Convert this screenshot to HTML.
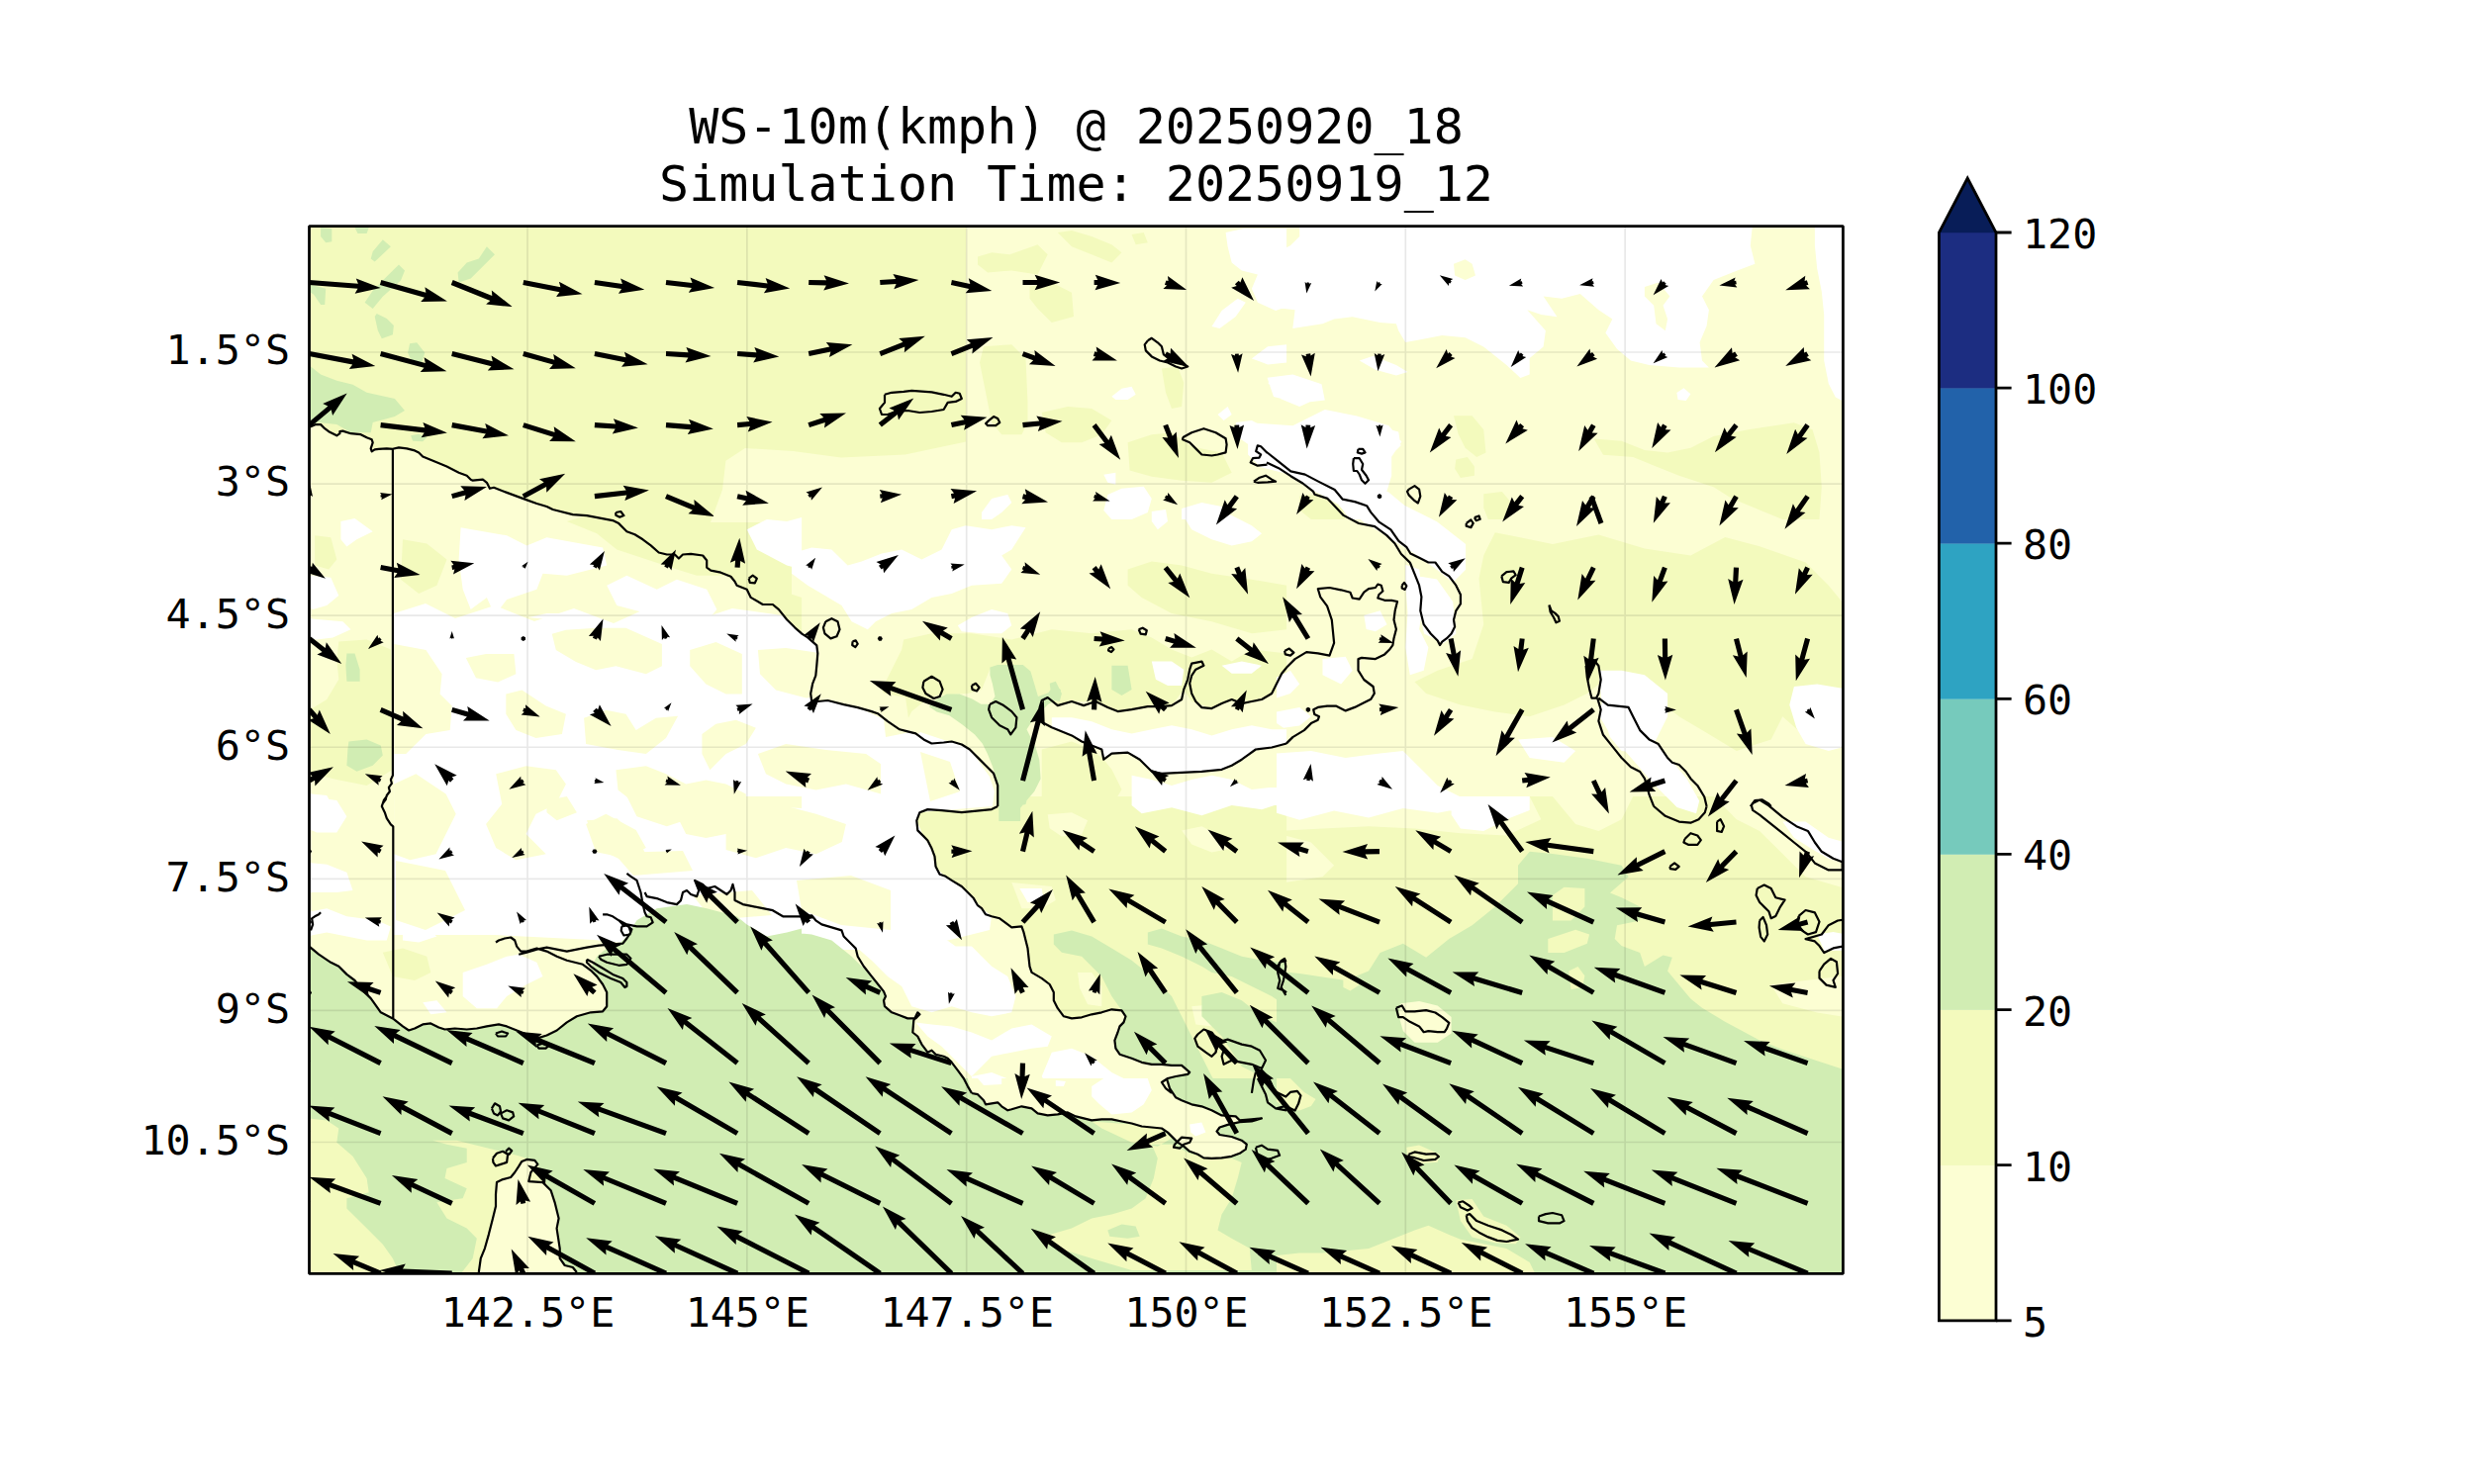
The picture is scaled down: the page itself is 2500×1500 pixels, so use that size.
<!DOCTYPE html><html><head><meta charset="utf-8"><style>html,body{margin:0;padding:0;background:#fff;}svg{display:block;}</style></head><body>
<svg xmlns="http://www.w3.org/2000/svg" width="2500" height="1500" viewBox="0 0 2500 1500">
<rect width="2500" height="1500" fill="#fff"/>
<defs><clipPath id="ax"><rect x="312.5" y="228.6" width="1549.9" height="1058.8"/></clipPath></defs>
<g clip-path="url(#ax)">
<rect x="312.5" y="228.6" width="1549.9" height="1058.8" fill="#f3fabd"/>
<path d="M976.0,228.0 1300.0,228.0 1300.0,528.0 718.0,528.0 730.0,495.0 733.4,465.8 752.9,452.9 801.4,456.1 849.9,462.6 914.6,459.4 976.0,446.4ZM1290.0,225.0 1865.0,225.0 1865.0,525.0 1290.0,525.0ZM300.0,431.6 310.0,431.6 314.0,431.2 319.1,429.1 324.1,429.1 328.2,433.2 332.2,436.2 340.3,440.3 343.4,438.2 343.4,436.2 346.4,435.6 354.5,438.2 364.6,439.2 370.6,442.3 375.7,444.3 376.7,447.3 374.7,453.4 375.7,456.4 378.7,454.4 382.8,453.8 390.8,453.4 396.9,453.8 403.0,452.4 411.1,453.4 419.1,455.4 423.2,457.4 427.2,461.5 439.4,466.5 451.5,471.6 463.6,477.7 471.7,480.7 475.7,484.7 477.8,485.7 487.9,484.7 491.9,487.8 493.9,491.8 494.9,493.8 499.0,492.8 504.0,494.8 512.1,497.9 528.3,503.9 542.4,509.0 552.5,512.0 558.6,515.0 578.8,520.1 593.0,521.1 619.2,526.1 625.3,529.1 633.4,537.2 641.5,540.3 649.6,545.3 657.7,551.4 665.7,558.5 673.8,560.5 681.9,560.5 685.9,564.5 690.0,560.5 698.1,559.9 710.2,561.5 714.2,566.5 714.2,573.6 718.3,576.6 728.4,578.7 738.5,582.7 742.5,587.8 744.6,591.8 754.7,595.8 758.7,603.9 770.8,611.0 780.9,611.0 787.0,616.1 795.1,626.2 803.2,634.3 810.1,640.3 810.0,830.0 300.0,830.0ZM800.0,515.0 1300.1,515.0 1300.1,814.9 800.0,814.9ZM1290.0,515.0 1865.0,515.0 1865.0,815.1 1290.0,815.1ZM310.0,805.0 810.1,805.0 810.1,1104.9 310.0,1104.9ZM800.0,805.0 1300.1,805.0 1300.1,1104.9 800.0,1104.9Z" fill="#fcfed3"/>
<path d="M1290.0,805.0 1865.0,805.0 1865.0,1105.1 1290.0,1105.1Z" fill="#f3fabd"/>
<path d="M1290.0,805.0 1545.7,805.0 1557.3,828.2 1522.4,844.5 1475.9,842.2 1429.5,837.5 1383.0,835.2 1336.5,837.5 1290.0,839.9ZM1568.9,805.0 1650.2,805.0 1638.6,828.2 1615.4,839.9 1592.1,832.9 1580.5,818.9ZM1731.6,805.0 1865.0,805.0 1865.0,898.0 1824.6,886.3 1801.3,863.1 1778.1,839.9 1754.8,828.2 1743.2,816.6ZM1789.7,995.6 1824.6,990.9 1865.0,986.3 1865.0,1028.1 1836.2,1023.5 1801.3,1014.2ZM1290.0,842.2 1324.9,851.5 1348.1,874.7 1336.5,886.3 1290.0,893.3Z" fill="#fcfed3"/>
<path d="M988.0,259.4 1002.1,255.3 1020.3,257.3 1048.6,247.2 1058.7,257.3 1048.6,277.6 1022.3,273.5 998.1,275.5 988.0,267.4ZM1040.5,289.7 1062.8,285.6 1083.0,295.7 1085.0,320.0 1062.8,326.1 1048.6,311.9 1040.5,301.8ZM994.0,350.3 1022.3,348.3 1036.5,362.4 1038.5,406.9 1038.5,427.1 1032.4,439.2 1012.2,439.2 1002.1,427.1 996.1,396.8 990.0,366.5ZM1052.7,417.0 1078.9,411.0 1103.2,413.0 1123.4,425.1 1113.3,439.2 1093.1,447.3 1072.9,447.3 1056.7,437.2ZM1139.6,447.3 1163.8,439.2 1184.0,437.2 1204.2,451.4 1234.6,457.4 1244.7,477.7 1224.5,487.8 1194.1,485.7 1163.8,481.7 1141.6,475.6ZM1173.9,372.5 1190.1,370.5 1196.2,386.7 1194.1,411.0 1184.0,413.0 1178.0,396.8ZM1068.8,235.1 1083.0,233.1 1103.2,239.1 1123.4,247.2 1133.5,255.3 1123.4,265.4 1103.2,257.3 1083.0,249.3ZM1143.6,237.1 1155.7,235.1 1159.8,245.2 1147.7,247.2ZM1469.0,420.2 1487.6,420.2 1499.2,434.2 1501.5,457.4 1492.2,462.1 1480.6,452.8 1473.6,438.8ZM1471.3,464.4 1482.9,462.1 1489.9,471.4 1489.9,480.7 1475.9,483.0 1470.1,473.7ZM1610.7,443.5 1638.6,445.8 1661.9,455.1 1685.1,457.4 1708.4,452.8 1731.6,441.1 1766.5,434.2 1812.9,427.2 1831.5,434.2 1838.5,457.4 1840.8,492.3 1838.5,525.1 1801.3,525.1 1778.1,515.5 1750.2,503.9 1731.6,492.3 1696.7,480.7 1673.5,471.4 1650.2,462.1 1620.0,459.7ZM1499.2,499.3 1517.8,496.9 1529.4,510.9 1522.4,525.1 1503.8,525.1 1499.2,513.2ZM1313.2,501.6 1336.5,499.3 1357.4,515.5 1359.7,525.1 1324.9,525.1 1313.2,515.5ZM572.8,527.1 603.1,539.3 623.3,555.4 653.6,565.5 683.9,575.6 704.1,581.7 734.5,581.7 754.7,575.6 785.0,595.8 810.1,603.9 810.1,640.3 803.2,634.3 787.0,616.1 770.8,611.0 754.7,595.8 742.5,587.8 728.4,578.7 714.2,573.6 710.2,561.5 681.9,560.5 665.7,558.5 649.6,545.3 633.4,537.2 619.2,526.1 593.0,521.1ZM342.3,648.4 370.6,646.4 394.9,656.5 396.9,696.9 394.9,717.1 396.9,777.8 370.6,793.9 340.3,787.9 314.0,781.8 310.0,757.5 314.0,717.1 330.2,707.0 342.3,686.8 340.3,666.6ZM318.1,541.3 334.3,543.3 340.3,565.5 332.2,575.6 318.1,571.6ZM407.0,545.3 431.3,549.4 451.5,565.5 441.4,591.8 423.2,599.9 405.0,585.7ZM913.2,646.4 941.5,640.3 981.9,640.3 1022.3,646.4 1062.8,636.3 1103.2,640.3 1143.6,636.3 1163.8,644.4 1184.0,656.5 1204.2,664.6 1224.5,656.5 1244.7,668.6 1264.9,656.5 1300.1,660.5 1300.1,696.9 1285.1,701.0 1264.9,709.0 1244.7,707.0 1224.5,716.1 1204.2,709.0 1196.2,696.9 1184.0,713.1 1163.8,714.1 1129.5,719.1 1107.2,709.0 1083.0,709.0 1068.8,713.1 1058.7,705.0 1050.6,709.0 1042.5,684.8 1032.4,674.7 1012.2,672.7 1000.1,676.7 992.0,696.9 977.9,701.0 945.5,703.0 931.4,711.1 921.3,719.1 917.2,727.2 901.1,717.1 891.0,696.9 901.1,676.7 911.2,656.5ZM1139.6,575.6 1163.8,567.6 1194.1,571.6 1224.5,579.7 1264.9,585.7 1300.1,591.8 1300.1,636.3 1264.9,640.3 1224.5,628.2 1184.0,620.1 1153.7,603.9 1139.6,591.8ZM1052.7,757.5 1083.0,749.5 1103.2,757.5 1115.3,767.7 1123.4,777.8 1133.5,798.0 1123.4,814.9 1052.7,814.9ZM1510.8,538.2 1568.9,549.9 1615.4,540.6 1661.9,554.5 1708.4,561.5 1743.2,542.9 1778.1,552.2 1824.6,568.5 1847.8,591.7 1865.0,612.6 1865.0,747.4 1824.6,745.1 1801.3,724.2 1789.7,747.4 1754.8,759.0 1720.0,738.1 1696.7,724.2 1661.9,696.3 1627.0,682.3 1603.8,700.9 1580.5,712.6 1545.7,724.2 1510.8,719.5 1475.9,712.6 1441.1,700.9 1429.5,689.3 1452.7,677.7 1487.6,666.1 1499.2,631.2 1494.5,584.7 1499.2,561.5ZM386.8,962.7 407.0,958.6 431.3,966.7 435.3,982.9 419.1,991.0 396.9,986.9ZM1008.2,815.1 1010.2,805.0 1300.1,805.0 1300.1,1104.9 1184.0,1104.9 1184.0,1104.9 1178.0,1100.1 1173.9,1094.0 1180.0,1090.0 1188.1,1088.0 1200.2,1085.9 1202.2,1083.9 1194.1,1076.9 1184.0,1076.9 1173.9,1075.8 1163.8,1075.8 1153.7,1073.8 1143.6,1069.8 1131.5,1065.7 1127.4,1059.7 1126.4,1051.6 1129.5,1043.5 1131.5,1037.4 1135.5,1033.4 1137.5,1027.3 1133.5,1021.3 1123.4,1020.3 1113.3,1023.3 1103.2,1025.3 1093.1,1028.3 1083.0,1029.4 1074.9,1027.3 1068.8,1019.2 1064.8,1011.2 1064.8,1003.1 1060.7,995.0 1052.7,988.9 1042.5,982.9 1040.5,976.8 1038.5,958.6 1034.5,942.4 1032.4,936.4 1022.3,937.4 1018.3,934.4 1010.2,928.3 1002.1,926.3 996.1,924.3 992.0,918.2 988.0,915.2 983.9,908.1 977.9,902.0 971.8,896.0 961.7,889.9 955.6,885.8 949.6,883.8 945.5,875.7 944.5,865.6 941.5,857.6 937.4,849.5 933.4,845.4 927.3,839.4 926.3,829.3 929.4,821.2 937.4,818.1 951.6,819.1 971.8,821.2 981.9,820.2 1002.1,818.1 1008.2,815.1Z" fill="#f3fabd"/>
<path d="M1058.7,823.2 1083.0,821.2 1099.1,829.3 1093.1,843.4 1072.9,845.4 1060.7,837.3ZM1194.1,839.4 1214.4,835.3 1234.6,845.4 1244.7,857.6 1224.5,861.6 1204.2,853.5ZM1022.3,891.9 1042.5,893.9 1062.8,896.0 1066.8,910.1 1052.7,918.2 1032.4,918.2ZM1089.0,982.9 1103.2,982.9 1113.3,997.0 1113.3,1017.2 1099.1,1015.2 1091.1,999.0ZM1204.2,1017.2 1224.5,1015.2 1234.6,1027.3 1224.5,1037.4 1208.3,1035.4Z" fill="#fcfed3"/>
<path d="M1238.6,235.1 1256.8,231.1 1300.1,231.1 1300.1,309.9 1289.1,313.9 1270.9,305.8 1264.9,291.7 1270.9,277.6 1254.8,273.5 1244.7,265.4 1240.6,249.3ZM1224.5,330.1 1234.6,313.9 1250.7,301.8 1258.8,305.8 1248.7,320.0 1232.5,332.1ZM1264.9,362.4 1281.1,350.3 1300.1,348.3 1300.1,366.5 1281.1,368.5ZM1281.1,386.7 1293.2,382.7 1300.1,384.7 1300.1,398.8 1289.1,396.8ZM1123.4,400.8 1133.5,392.8 1143.6,390.7 1147.7,398.8 1139.6,403.9 1127.4,403.9ZM1248.7,427.1 1264.9,425.1 1285.1,435.2 1300.1,437.2 1300.1,449.4 1264.9,451.4 1252.8,443.3ZM992.0,518.1 1002.1,503.9 1018.3,499.9 1022.3,508.0 1012.2,518.1 1002.1,524.9 992.0,524.9ZM1119.4,499.9 1133.5,493.8 1155.7,491.8 1163.8,503.9 1159.8,518.1 1143.6,524.9 1123.4,524.9 1115.3,516.1ZM1194.1,514.0 1214.4,508.0 1234.6,512.0 1234.6,524.9 1194.1,524.9ZM1115.3,479.7 1127.4,477.7 1127.4,489.8 1119.4,487.8ZM1230.5,419.0 1240.6,411.0 1244.7,419.0 1236.6,425.1ZM1313.2,225.0 1771.1,225.0 1768.8,248.2 1773.4,266.8 1754.8,273.8 1731.6,283.1 1720.0,299.4 1726.9,313.3 1724.6,329.6 1717.6,345.9 1720.0,364.5 1726.9,371.4 1696.7,371.4 1666.5,369.1 1647.9,364.5 1634.0,352.8 1622.4,336.6 1629.3,322.6 1615.4,313.3 1596.8,297.0 1578.2,301.7 1559.6,299.4 1573.5,320.3 1557.3,318.0 1543.3,313.3 1561.9,334.2 1559.6,350.5 1545.7,362.1 1545.7,378.4 1536.4,381.9 1522.4,369.1 1499.2,350.5 1480.6,341.2 1457.3,338.9 1434.1,343.5 1420.2,345.9 1413.2,334.2 1410.9,327.3 1394.6,326.1 1366.7,320.3 1348.1,322.6 1336.5,327.3 1306.3,331.9 1308.6,313.3 1290.0,311.0 1290.0,255.2 1303.9,248.2 1313.2,238.9ZM1290.0,385.4 1329.5,387.7 1334.2,401.6 1313.2,410.9 1301.6,406.3 1290.0,401.6ZM1290.0,448.1 1336.5,445.8 1366.7,434.2 1387.6,429.5 1413.2,436.5 1415.5,450.4 1406.2,459.7 1406.2,480.7 1399.2,503.9 1401.6,525.1 1364.4,525.1 1348.1,503.9 1324.9,487.6 1303.9,476.0 1290.0,471.4ZM1373.7,364.5 1387.6,359.8 1410.9,369.1 1422.5,376.1 1410.9,379.6 1389.9,373.7ZM1694.4,397.0 1701.4,392.3 1708.4,398.2 1703.7,405.1 1695.6,404.0ZM344.4,527.1 358.5,524.1 376.7,537.2 360.5,545.3 350.4,552.4 344.4,545.3ZM310.0,581.7 334.3,583.7 342.3,601.9 330.2,612.0 316.1,616.1 310.0,612.0ZM310.0,625.2 346.4,628.2 354.5,636.3 336.3,644.4 320.1,646.4 310.0,644.4ZM465.6,533.2 512.1,541.3 532.3,551.4 552.5,543.3 609.1,553.4 613.2,571.6 572.8,581.7 548.5,579.7 542.4,595.8 512.1,606.0 500.0,622.1 491.9,603.9 475.7,616.1 467.7,595.8 463.6,565.5ZM534.4,624.1 572.8,628.2 593.0,624.1 613.2,636.3 593.0,644.4 572.8,640.3 562.7,656.5 552.5,676.7 532.3,676.7 522.2,656.5 502.0,652.4 487.9,656.5 475.7,666.6 463.6,676.7 451.5,686.8 447.4,701.0 463.6,709.0 491.9,707.0 522.2,709.0 542.4,727.2 562.7,727.2 582.9,713.1 613.2,713.1 643.5,707.0 663.7,717.1 694.0,729.2 734.5,725.2 754.7,709.0 734.5,680.7 714.2,656.5 694.0,646.4 673.8,656.5 653.6,646.4 633.4,636.3 613.2,628.2 582.9,620.1 552.5,620.1ZM613.2,591.8 633.4,581.7 663.7,595.8 683.9,585.7 714.2,595.8 724.4,616.1 714.2,628.2 683.9,628.2 653.6,620.1 623.3,612.0ZM754.7,535.2 774.9,525.1 795.1,527.1 810.1,523.1 810.1,575.6 795.1,571.6 764.8,555.4ZM415.1,737.3 441.4,733.3 451.5,757.5 439.4,777.8 427.2,793.9 415.1,777.8ZM542.4,767.7 572.8,763.6 593.0,777.8 582.9,798.0 552.5,808.1 532.3,798.0ZM633.4,747.4 663.7,737.3 694.0,747.4 714.2,767.7 704.1,798.0 673.8,804.0 643.5,787.9ZM754.7,737.3 785.0,733.3 810.1,727.2 810.1,777.8 785.0,781.8 764.8,767.7ZM310.0,802.0 330.2,804.0 336.3,814.9 310.0,814.9ZM471.7,787.9 502.0,781.8 512.1,798.0 502.0,814.9 471.7,814.9ZM800.0,559.5 820.2,553.4 840.4,555.4 856.6,571.6 870.7,567.6 891.0,559.5 911.2,555.4 931.4,565.5 951.6,555.4 961.7,535.2 975.8,531.2 1002.1,535.2 1022.3,531.2 1036.5,533.2 1022.3,555.4 1012.2,561.5 1022.3,575.6 1012.2,589.8 981.9,591.8 961.7,599.9 941.5,603.9 921.3,616.1 901.1,620.1 884.9,628.2 876.8,636.3 860.6,628.2 850.5,612.0 830.3,599.9 816.2,591.8 800.0,579.7ZM967.8,632.2 981.9,624.1 1002.1,616.1 1018.3,620.1 1022.3,632.2 1012.2,640.3 992.0,640.3 971.8,638.3ZM1194.1,519.0 1224.5,515.0 1244.7,521.1 1264.9,531.2 1275.0,539.3 1264.9,547.3 1244.7,551.4 1224.5,545.3 1204.2,535.2ZM1163.8,517.0 1178.0,515.0 1180.0,527.1 1169.9,535.2 1163.8,527.1ZM800.0,717.1 820.2,717.1 840.4,727.2 860.6,727.2 880.8,733.3 891.0,747.4 880.8,757.5 860.6,763.6 840.4,769.7 820.2,773.7 800.0,775.7ZM800.0,777.8 830.3,781.8 860.6,773.7 891.0,777.8 921.3,773.7 941.5,767.7 961.7,771.7 971.8,787.9 961.7,802.0 941.5,810.1 911.2,814.9 860.6,814.9 830.3,806.1 800.0,802.0ZM1062.8,725.2 1083.0,725.2 1103.2,729.2 1123.4,737.3 1143.6,741.4 1163.8,737.3 1184.0,733.3 1204.2,737.3 1224.5,743.4 1244.7,737.3 1264.9,733.3 1285.1,737.3 1300.1,737.3 1300.1,751.5 1285.1,755.5 1268.9,757.5 1254.8,767.7 1244.7,773.7 1234.6,777.8 1194.1,780.8 1173.9,781.8 1163.8,779.8 1151.7,767.7 1139.6,760.6 1123.4,761.6 1115.3,767.7 1113.3,757.5 1093.1,749.5 1083.0,743.4 1062.8,735.3ZM1143.6,783.8 1163.8,787.9 1184.0,793.9 1204.2,787.9 1224.5,783.8 1244.7,787.9 1264.9,798.0 1300.1,793.9 1300.1,810.1 1275.0,818.2 1244.7,814.1 1214.4,824.2 1184.0,816.2 1153.7,822.2 1143.6,814.1ZM1163.8,668.6 1184.0,668.6 1196.2,676.7 1194.1,692.9 1180.0,692.9 1167.9,686.8ZM1234.6,672.7 1254.8,668.6 1275.0,672.7 1264.9,680.7 1244.7,680.7ZM1420.2,570.8 1434.1,575.4 1438.7,608.0 1434.1,635.9 1443.4,654.5 1438.7,677.7 1424.8,682.3 1420.2,654.5 1422.5,619.6 1420.2,591.7ZM1615.4,677.7 1638.6,677.7 1661.9,682.3 1685.1,700.9 1685.1,724.2 1673.5,747.4 1661.9,761.4 1638.6,759.0 1627.0,745.1 1620.0,724.2ZM1290.0,761.4 1324.9,759.0 1359.7,766.0 1394.6,761.4 1417.8,759.0 1429.5,770.7 1441.1,782.3 1452.7,793.9 1475.9,805.5 1487.6,815.1 1452.7,821.8 1417.8,817.1 1383.0,826.4 1348.1,819.5 1313.2,828.8 1290.0,821.8ZM1812.9,694.0 1836.2,691.6 1865.0,696.3 1865.0,754.4 1847.8,759.0 1824.6,752.1 1815.3,735.8 1808.3,712.6ZM1434.1,533.6 1452.7,531.3 1471.3,542.9 1475.9,561.5 1464.3,566.1 1448.0,556.8 1436.4,547.5ZM1290.0,684.7 1303.9,677.7 1313.2,691.6 1303.9,700.9 1290.0,705.6ZM1378.3,621.9 1394.6,617.3 1401.6,631.2 1389.9,638.2 1380.6,635.9ZM1336.5,666.1 1359.7,663.7 1366.7,677.7 1355.1,691.6 1336.5,682.3ZM1290.0,719.5 1313.2,714.9 1324.9,724.2 1313.2,733.5 1297.0,735.8 1290.0,731.1ZM1534.0,747.4 1568.9,745.1 1592.1,759.0 1580.5,770.7 1545.7,766.0ZM310.0,805.0 340.3,809.0 350.4,825.2 340.3,841.4 320.1,841.4 310.0,837.3ZM455.5,805.0 522.2,805.0 522.2,825.2 542.4,845.4 532.3,865.6 502.0,871.7 481.8,871.7 451.5,865.6 431.3,871.7 415.1,889.9 431.3,910.1 461.6,914.1 481.8,896.0 512.1,885.8 552.5,889.9 593.0,875.7 633.4,865.6 673.8,845.4 714.2,831.3 754.7,817.1 810.1,817.1 810.1,902.0 774.9,918.2 742.5,910.1 724.4,893.9 694.0,891.9 673.8,906.1 643.5,889.9 603.1,889.9 572.8,902.0 552.5,918.2 512.1,926.3 481.8,922.2 461.6,926.3 431.3,936.4 411.1,926.3 401.0,906.1 407.0,881.8 423.2,865.6 441.4,845.4 451.5,825.2ZM310.0,871.7 330.2,873.7 350.4,881.8 356.5,900.0 340.3,902.0 310.0,902.0ZM310.0,922.2 330.2,918.2 350.4,926.3 380.7,930.3 394.9,936.4 390.8,950.5 370.6,950.5 350.4,946.5 330.2,942.4 310.0,946.5ZM407.0,934.4 431.3,938.4 441.4,946.5 423.2,952.5 407.0,950.5ZM467.7,982.9 491.9,974.8 512.1,966.7 524.2,964.7 542.4,972.8 548.5,986.9 532.3,995.0 512.1,1007.1 502.0,1019.2 481.8,1019.2 467.7,1007.1ZM427.2,1013.2 441.4,1011.2 451.5,1023.3 435.3,1025.3ZM467.7,918.2 491.9,922.2 502.0,930.3 487.9,938.4 471.7,934.4ZM548.5,922.2 564.7,918.2 572.8,930.3 564.7,938.4 552.5,934.4ZM800.0,825.2 816.2,817.1 830.3,825.2 820.2,845.4 800.0,855.5ZM840.4,845.4 870.7,829.3 901.1,835.3 921.3,845.4 927.3,865.6 941.5,881.8 951.6,896.0 921.3,889.9 901.1,875.7 880.8,865.6 850.5,861.6ZM800.0,885.8 820.2,889.9 830.3,906.1 820.2,918.2 800.0,920.2ZM854.6,936.4 891.0,918.2 911.2,926.3 931.4,936.4 951.6,946.5 965.7,956.6 981.9,956.6 992.0,966.7 1002.1,976.8 1018.3,986.9 1026.4,1007.1 1022.3,1023.3 1002.1,1027.3 981.9,1023.3 961.7,1017.2 941.5,1023.3 921.3,1017.2 911.2,997.0 897.0,986.9 880.8,970.7 866.7,958.6ZM925.3,1033.4 941.5,1035.4 961.7,1037.4 981.9,1043.5 1002.1,1051.6 1022.3,1039.5 1042.5,1035.4 1062.8,1047.5 1058.7,1057.7 1042.5,1059.7 1022.3,1063.7 1002.1,1067.8 992.0,1077.9 981.9,1088.0 971.8,1077.9 951.6,1057.7 937.4,1047.5ZM1062.8,1063.7 1083.0,1059.7 1103.2,1067.8 1123.4,1083.9 1143.6,1094.0 1153.7,1104.9 1062.8,1104.9 1052.7,1088.0ZM981.9,1088.0 1002.1,1083.9 1022.3,1092.0 1032.4,1104.9 981.9,1104.9ZM1030.4,898.0 1052.7,898.0 1054.7,910.1 1038.5,912.1ZM1290.0,805.0 1394.6,805.0 1392.3,814.3 1371.3,816.6 1359.7,812.0 1336.5,809.6 1313.2,812.0 1290.0,812.0ZM1466.6,805.0 1545.7,805.0 1545.7,818.9 1522.4,828.2 1499.2,839.9 1475.9,837.5 1466.6,823.6ZM1801.3,830.6 1824.6,830.6 1847.8,846.8 1865.0,851.5 1865.0,872.4 1847.8,867.8 1831.5,858.5 1812.9,846.8ZM1836.2,944.5 1852.5,942.1 1865.0,944.5 1865.0,960.7 1843.2,960.7ZM1261.1,427.0 1306.4,430.3 1338.8,414.1 1371.1,420.5 1403.5,430.3 1416.4,446.4 1403.5,465.8 1400.2,494.9 1419.6,511.1 1452.0,527.3 1481.1,549.9 1481.1,575.8 1468.2,588.8 1452.0,575.8 1429.3,559.6 1403.5,543.5 1377.6,527.3 1354.9,511.1 1325.8,494.9 1300.0,478.8 1274.1,472.3 1261.1,459.4ZM1280.5,381.7 1306.4,378.5 1335.5,388.2 1338.8,404.4 1312.9,407.6 1287.0,401.1ZM1432.6,582.3 1452.0,585.5 1468.2,608.2 1471.4,640.5 1458.5,650.2 1439.0,640.5 1432.6,608.2ZM1617.0,712.3 1636.4,715.6 1662.2,738.2 1684.9,764.1 1704.3,786.7 1717.2,809.4 1714.0,822.3 1694.6,815.9 1671.9,793.2 1649.3,767.3 1626.7,741.5 1617.0,725.3Z" fill="#ffffff"/>
<path d="M398.0,620.0 430.0,610.0 460.0,625.0 500.0,612.0 540.0,628.0 580.0,615.0 620.0,630.0 660.0,612.0 700.0,628.0 740.0,615.0 790.0,622.0 810.0,640.0 825.0,652.0 825.0,672.0 821.0,691.0 820.0,709.0 840.0,709.0 867.0,715.0 897.0,729.0 917.0,739.0 942.0,750.0 962.0,750.0 980.0,757.0 960.0,770.0 930.0,800.0 910.0,830.0 900.0,858.0 398.0,860.0ZM398.0,860.0 500.0,858.0 600.0,858.0 700.0,858.0 800.0,858.0 890.0,858.0 905.0,760.0 930.0,740.0 960.0,750.0 980.0,757.0 1000.0,785.0 1005.0,800.0 1003.0,815.0 929.0,821.0 926.0,829.0 933.0,845.0 941.0,858.0 945.0,876.0 955.0,886.0 972.0,896.0 984.0,908.0 992.0,918.0 1002.0,926.0 1000.0,940.0 960.0,950.0 900.0,960.0 800.0,960.0 700.0,960.0 600.0,950.0 500.0,945.0 398.0,945.0Z" fill="#ffffff"/>
<path d="M557.8,640.8 571.9,636.8 602.2,634.8 632.5,634.8 668.9,651.0 668.9,673.2 652.8,681.3 622.4,673.2 602.2,677.2 582.0,669.1 561.8,657.0ZM697.2,657.0 723.5,648.9 749.8,661.1 749.8,701.5 733.6,701.5 713.4,691.4 697.2,673.2ZM765.9,657.0 794.2,655.0 834.7,661.1 890.1,657.0 890.1,705.5 854.9,701.5 814.5,705.5 784.1,697.4 768.0,681.3ZM398.1,651.0 430.4,657.0 446.6,681.3 444.6,701.5 456.7,713.6 454.7,737.9 430.4,741.9 410.2,762.1 398.1,762.1ZM470.8,665.1 491.1,661.1 519.4,661.1 521.4,681.3 503.2,689.4 481.0,685.3ZM511.3,701.5 527.4,697.4 551.7,713.6 571.9,721.7 567.9,741.9 541.6,746.0 521.4,737.9 511.3,721.7ZM590.1,725.7 612.3,717.7 632.5,721.7 642.7,737.9 662.9,725.7 685.1,723.7 673.0,746.0 652.8,762.1 624.5,758.1 592.1,752.0ZM622.4,778.3 652.8,774.2 673.0,782.3 693.2,792.4 713.4,788.4 733.6,792.4 753.8,802.5 753.8,822.8 733.6,843.0 713.4,847.0 693.2,843.0 683.1,822.8 662.9,818.7 642.7,812.7 624.5,798.5ZM709.4,741.9 723.5,731.8 743.7,727.8 763.9,735.8 753.8,752.0 733.6,762.1 717.4,778.3 709.4,762.1ZM765.9,762.1 794.2,752.0 834.7,758.1 875.1,762.1 890.1,772.2 890.1,802.5 854.9,792.4 824.6,798.5 794.2,792.4 774.0,782.3ZM733.6,812.7 763.9,806.6 794.2,814.7 824.6,822.8 854.9,832.9 850.8,851.1 824.6,863.2 794.2,857.1 763.9,867.2 733.6,859.1ZM501.2,782.3 531.5,774.2 561.8,778.3 571.9,792.4 561.8,812.7 541.6,822.8 531.5,843.0 551.7,863.2 521.4,869.2 501.2,857.1 491.1,832.9 507.2,812.7ZM398.1,792.4 420.3,782.3 450.6,802.5 460.7,822.8 450.6,843.0 440.5,863.2 414.3,869.2 398.1,863.2ZM592.1,832.9 612.3,822.8 642.7,838.9 652.8,857.1 632.5,867.2 602.2,861.2ZM620.0,862.0 690.0,860.0 700.0,880.0 640.0,885.0ZM700.0,905.0 760.0,900.0 780.0,925.0 720.0,930.0ZM805.0,890.0 860.0,885.0 900.0,900.0 900.0,940.0 850.0,935.0 810.0,920.0ZM400.0,870.0 450.0,880.0 470.0,920.0 430.0,940.0 400.0,930.0ZM930.0,760.0 960.0,770.0 970.0,800.0 940.0,810.0ZM890.0,700.0 915.0,705.0 920.0,740.0 895.0,745.0Z" fill="#fcfed3"/>
<path d="M1469.0,266.8 1480.6,262.2 1487.6,266.8 1491.0,278.5 1480.6,283.1 1470.1,278.5ZM1661.9,290.1 1675.8,285.4 1687.4,299.4 1680.5,308.7 1685.1,322.6 1682.8,334.2 1673.5,327.3 1671.2,308.7 1661.9,299.4ZM593.0,829.3 623.3,827.2 643.5,845.4 653.6,865.6 633.4,871.7 603.1,857.6ZM633.4,805.0 694.0,805.0 704.1,825.2 673.8,835.3 643.5,825.2ZM734.5,805.0 810.1,805.0 810.1,817.1 774.9,815.1 754.7,817.1ZM552.5,809.0 572.8,805.0 582.9,821.2 562.7,829.3 552.5,821.2Z" fill="#fcfed3"/>
<path d="M324.1,230.1 335.3,231.1 335.3,244.2 329.2,245.2 324.1,239.1ZM358.5,230.1 372.7,230.1 370.6,236.1 361.5,236.1ZM386.8,242.2 394.9,249.3 378.7,264.4 374.7,261.4 376.7,254.3ZM491.9,249.3 500.0,257.3 475.7,281.6 463.6,285.6 462.6,275.5 471.7,265.4 483.8,261.4ZM403.0,267.4 409.0,273.5 405.0,283.6 386.8,299.8 376.7,311.9 368.6,305.8 376.7,293.7 390.8,279.6ZM314.0,287.7 329.2,291.7 328.2,307.9 324.1,307.9 317.1,297.8 314.0,295.7ZM380.7,317.0 390.8,322.0 397.9,329.1 396.9,338.2 385.8,342.2 381.8,334.1 378.7,320.0ZM414.1,347.3 421.2,346.3 429.3,356.4 426.2,366.5 417.1,367.5 412.1,356.4ZM310.0,366.5 314.0,370.5 324.1,378.6 340.3,384.7 356.5,388.7 370.6,396.8 398.9,402.9 409.0,415.0 398.9,421.1 376.7,427.1 374.7,437.2 354.5,437.2 340.3,429.1 322.1,427.1 310.0,431.2ZM415.1,440.3 423.2,438.8 431.3,442.3 427.2,446.3 417.1,445.7ZM350.4,660.5 358.5,660.5 363.6,676.7 363.6,688.8 350.4,688.8 349.4,672.7ZM352.4,749.5 370.6,747.4 384.8,753.5 386.8,763.6 376.7,773.7 360.5,779.8 350.4,773.7 351.4,757.5ZM1000.4,674.6 1008.1,672.0 1033.7,672.0 1041.4,678.4 1045.2,691.2 1049.0,704.0 1059.3,700.2 1065.7,691.2 1072.1,697.6 1069.5,706.6 1059.3,711.7 1051.6,719.4 1042.6,729.6 1037.5,737.3 1046.5,755.3 1050.3,768.1 1051.6,787.3 1045.2,800.1 1037.5,809.0 1031.1,816.7 1031.1,830.0 1009.3,830.0 1009.3,816.7 1008.1,806.5 1006.8,787.3 1002.9,774.5 997.8,761.7 992.7,751.4 985.0,742.4 972.2,732.2 959.4,723.2 946.6,719.4 938.9,714.3 946.6,706.6 956.8,701.5 969.6,701.5 982.4,706.6 991.4,711.7 1000.4,711.7 1005.5,704.0 1002.9,691.2 1000.4,682.3ZM1123.4,672.7 1139.6,672.7 1143.6,696.9 1133.5,703.0 1123.4,696.9ZM1060.7,690.8 1066.8,688.8 1072.9,701.0 1070.8,709.0 1062.8,707.0ZM310.0,954.6 322.1,964.7 334.3,972.8 342.3,976.8 350.4,984.9 358.5,991.0 366.6,1001.1 374.7,1009.1 384.8,1023.3 396.9,1029.4 407.0,1037.4 413.1,1041.5 419.1,1039.5 427.2,1035.4 435.3,1034.4 443.4,1038.5 449.5,1040.5 459.6,1039.5 471.7,1040.5 481.8,1039.5 491.9,1037.4 504.0,1035.4 512.1,1037.4 522.2,1041.5 532.3,1045.5 542.4,1049.6 552.5,1046.5 562.7,1041.5 572.8,1033.4 582.9,1027.3 597.0,1023.3 609.1,1022.3 613.2,1017.2 613.2,1003.1 603.1,986.9 597.0,978.8 603.1,966.7 613.2,958.6 625.3,954.6 633.4,946.5 643.5,930.3 663.7,918.2 694.0,914.1 714.2,918.2 744.6,926.3 754.7,934.4 774.9,946.5 795.1,942.4 810.1,938.4 810.1,1104.9 310.0,1104.9ZM800.0,942.4 820.2,944.5 840.4,950.5 860.6,966.7 870.7,976.8 880.8,986.9 888.9,997.0 893.0,1002.1 895.0,1007.1 893.0,1011.2 894.0,1017.2 901.1,1023.3 909.1,1026.3 917.2,1029.4 923.3,1031.4 922.3,1043.5 927.3,1047.5 931.4,1055.6 937.4,1063.7 945.5,1065.7 957.7,1069.8 967.8,1081.9 977.9,1098.1 981.9,1104.9 800.0,1104.9ZM1064.8,944.5 1083.0,940.4 1103.2,946.5 1123.4,958.6 1143.6,970.7 1163.8,986.9 1184.0,1007.1 1194.1,1027.3 1204.2,1047.5 1214.4,1067.8 1224.5,1088.0 1234.6,1104.9 1184.0,1104.9 1173.9,1094.0 1180.0,1090.0 1202.2,1083.9 1194.1,1076.9 1163.8,1075.8 1143.6,1069.8 1131.5,1065.7 1127.4,1059.7 1126.4,1051.6 1131.5,1037.4 1137.5,1027.3 1133.5,1021.3 1123.4,1007.1 1113.3,986.9 1093.1,966.7 1072.9,962.7 1064.8,954.6ZM1159.8,942.4 1173.9,938.4 1194.1,946.5 1214.4,950.5 1234.6,958.6 1254.8,966.7 1275.0,970.7 1300.1,972.8 1300.1,1017.2 1285.1,1007.1 1264.9,997.0 1244.7,986.9 1224.5,982.9 1214.4,976.8 1194.1,966.7 1173.9,958.6 1159.8,954.6ZM1214.4,1007.1 1234.6,1003.1 1254.8,1011.2 1275.0,1027.3 1300.1,1037.4 1300.1,1104.9 1285.1,1104.9 1275.0,1088.0 1254.8,1077.9 1234.6,1047.5 1214.4,1027.3ZM1010.2,805.0 1038.5,805.0 1036.5,813.1 1022.3,816.1 1010.2,815.1ZM1290.0,981.6 1313.2,984.0 1359.7,990.9 1383.0,981.6 1394.6,963.0 1417.8,953.7 1441.1,967.7 1464.3,949.1 1487.6,935.2 1510.8,916.6 1534.0,893.3 1534.0,874.7 1545.7,860.8 1568.9,863.1 1603.8,867.8 1638.6,874.7 1645.6,886.3 1627.0,902.6 1638.6,907.3 1657.2,916.6 1657.2,930.5 1634.0,935.2 1631.7,949.1 1638.6,956.1 1657.2,963.0 1661.9,977.0 1680.5,965.4 1689.8,967.7 1685.1,981.6 1696.7,995.6 1708.4,1009.5 1720.0,1018.8 1743.2,1032.8 1778.1,1051.4 1801.3,1060.7 1836.2,1072.3 1865.0,1081.6 1865.0,1105.1 1290.0,1105.1ZM310.0,1090.0 810.0,1090.0 810.0,1290.1 310.0,1290.1ZM800.0,1090.0 1300.0,1090.0 1300.0,1290.1 800.0,1290.1ZM1290.0,1090.0 1865.0,1090.0 1865.0,1290.1 1290.0,1290.1Z" fill="#d1edb3"/>
<path d="M1564.3,949.1 1592.1,939.8 1606.1,944.5 1603.8,953.7 1580.5,963.0 1564.3,963.0ZM1568.9,904.9 1580.5,896.8 1601.4,898.0 1601.4,916.6 1587.5,930.5 1568.9,930.5ZM1585.2,981.6 1594.5,977.0 1601.4,986.3 1599.1,997.9 1587.5,1000.2ZM1357.4,988.6 1366.7,986.3 1373.7,995.6 1364.4,1001.4 1357.4,997.9ZM310.0,1130.4 330.2,1132.4 342.3,1140.5 340.3,1154.7 356.5,1168.8 370.6,1191.1 372.7,1205.2 350.4,1211.3 350.4,1221.4 370.6,1241.6 386.8,1257.7 396.9,1271.9 405.0,1290.1 310.0,1290.1ZM437.3,1152.7 461.6,1152.7 481.8,1157.7 502.0,1162.8 522.2,1167.8 532.3,1170.8 543.4,1176.9 552.5,1197.1 560.6,1211.3 564.6,1231.5 564.6,1261.8 570.7,1279.0 582.8,1290.1 463.6,1290.1 477.7,1271.9 481.8,1251.7 471.7,1241.6 451.5,1231.5 441.4,1215.3 467.6,1211.3 471.7,1201.2 449.5,1191.1 451.5,1180.9 471.7,1174.9 471.7,1160.7 451.5,1156.7ZM1163.8,1156.7 1169.8,1170.8 1165.8,1191.1 1157.7,1211.3 1143.6,1221.4 1123.4,1227.4 1103.2,1231.5 1082.9,1241.6 1054.6,1249.7 1062.7,1259.8 1082.9,1265.8 1103.2,1271.9 1123.4,1278.0 1143.6,1284.0 1264.8,1284.0 1262.8,1261.8 1244.6,1251.7 1230.5,1243.6 1234.5,1227.4 1244.6,1211.3 1250.7,1191.1 1254.7,1174.9 1244.6,1170.8 1204.2,1166.8 1184.0,1156.7ZM1103.2,1133.5 1143.6,1136.5 1173.9,1141.5 1184.0,1150.6 1169.8,1158.7 1143.6,1154.7 1113.3,1140.5ZM1290.0,1269.0 1313.2,1266.6 1336.5,1266.6 1383.0,1262.0 1406.2,1252.7 1429.5,1243.4 1443.4,1238.7 1464.3,1248.0 1475.9,1252.7 1499.2,1257.3 1522.4,1262.0 1545.7,1275.9 1552.6,1290.1 1290.0,1290.1ZM1290.0,1090.0 1303.9,1090.0 1317.9,1103.9 1329.5,1110.9 1324.9,1117.9 1313.2,1122.5 1299.3,1120.2 1290.0,1113.2ZM1421.3,1159.7 1434.1,1157.4 1455.0,1166.7 1452.7,1174.8 1434.1,1176.0 1422.5,1171.3ZM1471.3,1213.2 1487.6,1212.0 1499.2,1229.5 1522.4,1238.7 1536.4,1250.4 1531.7,1257.3 1510.8,1256.2 1487.6,1250.4 1475.9,1234.1Z" fill="#f3fabd"/>
<path d="M1119.3,1243.6 1133.5,1237.5 1147.6,1239.6 1151.7,1249.7 1139.5,1251.7 1121.3,1249.7Z" fill="#d1edb3"/>
<path d="M1415.5,1014.2 1434.1,1011.9 1452.7,1016.5 1466.6,1028.1 1466.6,1044.4 1452.7,1053.7 1429.5,1053.7 1417.8,1042.1 1413.2,1025.8ZM481.8,1290.1 483.8,1286.0 485.8,1271.9 489.9,1261.8 493.9,1247.6 498.0,1231.5 501.0,1219.3 501.0,1207.2 502.0,1195.1 508.1,1192.1 516.1,1190.0 520.2,1185.0 524.2,1178.9 527.3,1173.9 532.3,1171.9 540.4,1172.9 543.4,1176.9 536.4,1185.0 534.3,1194.1 548.5,1195.1 556.6,1203.2 560.6,1215.3 564.6,1231.5 562.6,1241.6 565.7,1261.8 565.7,1271.9 570.7,1279.0 578.8,1281.0 582.8,1286.0 584.9,1290.1ZM977.8,1090.0 981.9,1105.0 988.0,1106.2 994.0,1112.2 996.0,1116.3 1002.1,1115.3 1008.2,1114.3 1012.2,1118.3 1018.3,1122.3 1022.3,1121.3 1032.4,1118.3 1042.5,1120.3 1048.6,1125.4 1058.7,1127.4 1068.8,1126.4 1078.9,1124.4 1087.0,1128.4 1095.1,1130.4 1103.2,1132.4 1113.3,1131.4 1123.4,1131.4 1133.5,1133.5 1143.6,1135.5 1153.7,1138.5 1163.8,1139.5 1173.9,1140.5 1180.0,1144.6 1186.0,1150.6 1190.1,1154.7 1196.1,1158.7 1202.2,1163.8 1210.3,1166.8 1216.3,1170.4 1224.4,1170.8 1234.5,1170.4 1244.6,1168.8 1252.7,1165.8 1258.8,1161.7 1259.8,1156.7 1254.7,1152.7 1244.6,1149.0 1232.5,1147.0 1229.5,1143.6 1232.5,1139.5 1240.6,1136.9 1252.7,1134.1 1264.8,1133.5 1274.9,1130.4 1264.8,1131.4 1252.7,1132.4 1248.7,1128.4 1234.5,1127.4 1224.4,1122.3 1214.3,1118.3 1204.2,1116.3 1194.1,1112.2 1188.0,1109.2 1182.0,1100.1 1178.9,1090.0 1178.9,1090.0Z" fill="#fcfed3"/>
<path d="M988.0,1090.0 1012.2,1090.0 1012.2,1096.1 994.0,1097.1ZM1103.2,1098.1 1115.3,1090.0 1159.7,1090.0 1163.8,1102.1 1155.7,1116.3 1143.6,1124.4 1123.4,1126.4 1111.2,1116.3 1103.2,1108.2ZM1066.8,1092.0 1076.9,1093.0 1074.9,1098.1 1066.8,1097.7ZM1202.2,1136.5 1214.3,1134.5 1218.4,1144.6 1208.2,1148.6 1203.2,1144.6Z" fill="#ffffff"/>
<path d="M1833.9,225.0 1864.1,225.0 1864.1,406.3 1854.8,401.6 1847.8,387.7 1843.2,364.5 1843.2,318.0 1840.8,294.7 1836.2,271.5 1833.9,248.2Z" fill="#ffffff"/>
<path d="M533.05,228.6V1287.4M754.87,228.6V1287.4M976.68,228.6V1287.4M1198.50,228.6V1287.4M1420.32,228.6V1287.4M1642.14,228.6V1287.4M312.5,355.98H1862.4M312.5,489.07H1862.4M312.5,622.16H1862.4M312.5,755.25H1862.4M312.5,888.34H1862.4M312.5,1021.43H1862.4M312.5,1154.52H1862.4" stroke="#000" stroke-opacity="0.09" stroke-width="1.7" fill="none"/>
<path d="M310.0,431.6 L314.0,431.2 L319.1,429.1 L324.1,429.1 L328.2,433.2 L332.2,436.2 L340.3,440.3 L343.4,438.2 L343.4,436.2 L346.4,435.6 L354.5,438.2 L364.6,439.2 L370.6,442.3 L375.7,444.3 L376.7,447.3 L374.7,453.4 L375.7,456.4 L378.7,454.4 L382.8,453.8 L390.8,453.4 L396.9,453.8 L403.0,452.4 L411.1,453.4 L419.1,455.4 L423.2,457.4 L427.2,461.5 L439.4,466.5 L451.5,471.6 L463.6,477.7 L471.7,480.7 L475.7,484.7 L477.8,485.7 L487.9,484.7 L491.9,487.8 L493.9,491.8 L494.9,493.8 L499.0,492.8 L504.0,494.8 L512.1,497.9 L528.3,503.9 L542.4,509.0 L552.5,512.0 L558.6,515.0 L578.8,520.1 L593.0,521.1 L619.2,526.1 L625.3,529.1 L633.4,537.2 L641.5,540.3 L649.6,545.3 L657.7,551.4 L665.7,558.5 L673.8,560.5 L681.9,560.5 L685.9,564.5 L690.0,560.5 L698.1,559.9 L710.2,561.5 L714.2,566.5 L714.2,573.6 L718.3,576.6 L728.4,578.7 L738.5,582.7 L742.5,587.8 L744.6,591.8 L754.7,595.8 L758.7,603.9 L770.8,611.0 L780.9,611.0 L787.0,616.1 L795.1,626.2 L803.2,634.3 L810.1,640.3M894.0,398.8 L901.1,396.8 L913.2,395.8 L921.3,394.8 L941.5,396.4 L953.6,398.8 L961.7,400.8 L965.7,396.8 L969.8,397.8 L971.8,402.9 L965.7,405.9 L957.7,406.9 L953.6,414.0 L941.5,416.0 L929.4,417.0 L917.2,415.0 L905.1,416.0 L897.0,419.0 L891.0,419.0 L888.9,413.0 L894.0,406.9 L894.0,402.9 L894.0,398.8M999.1,425.1 L1004.1,421.1 L1008.2,423.1 L1010.2,427.1 L1006.2,430.2 L998.1,430.2 L996.1,428.1 L999.1,425.1M1159.8,344.3 L1163.8,341.8 L1169.9,346.3 L1173.9,350.3 L1175.9,358.4 L1184.0,364.5 L1194.1,367.5 L1200.2,370.5 L1194.1,372.5 L1188.1,370.5 L1180.0,366.5 L1171.9,364.5 L1163.8,360.4 L1157.8,354.4 L1156.7,348.3 L1159.8,344.3M1195.1,442.3 L1204.2,437.2 L1216.4,433.2 L1228.5,437.2 L1238.6,443.3 L1239.6,449.4 L1238.6,457.4 L1230.5,459.5 L1224.5,460.5 L1214.4,459.5 L1208.3,453.4 L1202.2,447.3 L1195.1,444.3 L1195.1,442.3M1266.9,486.7 L1273.0,482.7 L1279.0,480.7 L1285.1,484.7 L1289.1,486.7 L1281.1,487.4 L1270.9,487.8 L1266.9,486.7M1280.0,457.0 L1292.1,466.7 L1304.3,476.4 L1318.8,479.6 L1332.6,486.9 L1348.7,495.0 L1356.8,504.7 L1369.0,507.1 L1381.1,511.2 L1385.1,517.6 L1393.2,527.3 L1405.4,535.4 L1413.4,546.8 L1421.5,553.2 L1425.6,560.0M1280.0,467.5 L1292.1,473.2 L1304.3,481.2 L1316.4,488.5 L1326.9,496.6 L1328.5,499.8 L1341.5,503.9 L1357.6,520.9 L1373.0,529.0 L1389.2,532.2 L1401.3,541.1 L1409.4,549.2 L1415.9,560.0 L1424.8,568.6M1372.5,453.9 L1377.2,453.9 L1379.5,457.4 L1376.0,458.6 L1371.8,457.4 L1372.5,453.9M1367.9,463.2 L1373.7,463.2 L1377.2,469.0 L1376.0,474.8 L1380.6,480.7 L1383.0,485.3 L1379.5,488.8 L1376.0,485.3 L1373.7,479.5 L1371.3,476.0 L1367.9,476.0 L1367.2,469.0 L1367.9,463.2M1423.6,494.6 L1429.5,491.1 L1434.1,494.6 L1435.3,501.6 L1432.9,508.5 L1429.5,506.2 L1423.6,500.4 L1422.0,496.9 L1423.6,494.6M622.3,518.0 L627.3,517.0 L630.4,521.1 L626.3,522.7 L622.3,520.7 L622.3,518.0M756.7,584.7 L760.7,581.7 L764.8,584.7 L762.8,589.4 L757.7,588.8 L756.7,584.7M396.9,453.8 L396.9,524.9M396.9,515.0 L396.9,783.8 L394.9,787.9 L395.9,791.9 L392.9,795.9 L393.9,800.0 L390.8,804.0 L389.8,808.1 L386.8,812.1 L385.8,814.9M809.9,640.3 L816.2,644.4 L825.3,652.4 L826.3,660.5 L825.3,672.7 L824.3,682.8 L821.2,690.8 L819.2,701.0 L820.2,709.0 L826.3,709.0 L836.4,708.0 L840.4,709.0 L852.6,712.1 L866.7,715.1 L880.8,719.1 L886.9,721.2 L897.0,729.2 L909.1,737.3 L917.2,739.4 L925.3,741.4 L933.4,747.4 L941.5,751.5 L953.6,750.5 L961.7,749.5 L971.8,752.5 L979.9,757.5 L988.0,765.6 L996.1,773.7 L1004.1,781.8 L1008.2,793.9 L1008.2,814.9M1300.1,674.7 L1295.2,680.7 L1291.2,688.8 L1285.1,701.0 L1275.0,707.0 L1264.9,709.0 L1254.8,711.1 L1244.7,707.0 L1234.6,711.1 L1224.5,716.1 L1214.4,715.1 L1208.3,709.0 L1204.2,701.0 L1202.2,690.8 L1204.2,682.8 L1208.3,676.7 L1216.4,672.7 L1214.4,668.6 L1204.2,670.6 L1202.2,676.7 L1200.2,686.8 L1196.2,696.9 L1194.1,707.0 L1184.0,713.1 L1173.9,714.1 L1159.8,714.1 L1143.6,717.1 L1129.5,719.1 L1119.4,715.1 L1107.2,709.0 L1095.1,713.1 L1083.0,709.0 L1068.8,713.1 L1058.7,705.0 L1052.7,708.0 L1050.6,715.1 L1051.6,729.2 L1062.8,735.3 L1083.0,743.4 L1093.1,749.5 L1103.2,753.5 L1113.3,757.5 L1115.3,767.7 L1123.4,761.6 L1139.6,760.6 L1151.7,767.7 L1163.8,779.8 L1173.9,781.8 L1194.1,780.8 L1214.4,779.8 L1234.6,777.8 L1244.7,773.7 L1254.8,767.7 L1268.9,757.5 L1285.1,755.5 L1300.1,751.5M834.4,628.2 L840.4,625.2 L846.5,628.2 L848.5,636.3 L845.5,643.3 L839.4,645.4 L833.4,640.3 L831.9,634.3 L834.4,628.2M861.6,648.4 L864.7,647.4 L866.7,650.8 L864.3,654.1 L861.2,652.0 L861.6,648.4M933.4,688.8 L941.5,683.8 L949.6,688.8 L952.6,696.9 L949.6,704.0 L943.5,706.0 L935.4,701.0 L932.4,694.9 L933.4,688.8M981.9,692.9 L986.0,690.8 L989.6,694.9 L987.0,698.5 L982.5,696.9 L981.9,692.9M1000.1,712.1 L1006.2,709.0 L1014.2,713.1 L1022.3,719.1 L1027.4,725.2 L1026.4,735.3 L1021.3,742.4 L1018.3,737.3 L1010.2,733.3 L1002.1,725.2 L999.1,717.1 L1000.1,712.1M1150.7,636.3 L1154.7,634.7 L1158.8,637.3 L1157.8,641.3 L1152.7,640.7 L1150.7,636.3M1120.4,655.5 L1123.4,654.1 L1125.4,656.5 L1123.0,659.1 L1120.0,657.5 L1120.4,655.5M1300.0,674.7 L1308.6,666.1 L1320.2,659.1 L1331.8,660.3 L1343.5,662.6 L1348.1,649.8 L1345.8,626.6 L1341.1,612.6 L1334.2,603.3 L1331.8,595.2 L1343.5,594.0 L1355.1,596.3 L1364.4,598.7 L1366.7,604.5 L1373.7,605.6 L1378.3,598.7 L1383.0,595.2 L1389.9,594.0 L1392.3,590.5 L1395.8,591.7 L1397.4,597.5 L1393.4,601.0 L1392.3,604.5 L1399.2,606.8 L1406.2,606.8 L1412.0,608.0 L1409.7,617.3 L1408.5,626.6 L1410.9,635.9 L1408.5,645.2 L1407.4,652.1 L1403.9,656.8 L1399.2,661.4 L1389.9,666.1 L1376.0,664.9 L1372.5,666.1 L1372.5,677.7 L1378.3,687.0 L1387.6,694.0 L1388.8,700.9 L1385.3,706.7 L1378.3,710.2 L1369.0,714.9 L1359.7,718.4 L1350.4,713.7 L1341.1,713.7 L1331.8,714.9 L1327.2,717.2 L1328.3,721.9 L1333.0,724.2 L1331.8,727.7 L1324.9,731.1 L1317.9,738.1 L1306.3,745.1 L1300.0,751.4M1424.8,568.5 L1429.5,580.1 L1434.1,591.7 L1436.4,603.3 L1435.3,617.3 L1438.7,631.2 L1445.7,640.5 L1452.7,647.5 L1455.0,652.1 L1457.3,648.6 L1462.0,645.2 L1466.6,640.5 L1470.1,633.5 L1469.0,626.6 L1471.3,617.3 L1475.9,610.3 L1475.9,601.0 L1471.3,591.7 L1464.3,582.4 L1457.3,577.8 L1450.4,568.5 L1443.4,568.5 L1434.1,563.8 L1424.8,559.2M1602.6,673.0 L1610.7,667.2 L1615.4,673.0 L1617.7,687.0 L1615.4,700.9 L1613.1,705.6 L1608.4,705.6 L1606.1,696.3 L1603.8,684.7 L1602.6,673.0M1614.2,705.6 L1617.7,717.2 L1615.4,728.8 L1620.0,742.8 L1629.3,754.4 L1638.6,766.0 L1647.9,775.3 L1657.2,780.0 L1661.9,786.9 L1664.2,793.9 L1666.5,803.2 L1671.2,815.1M1615.4,705.6 L1624.7,712.6 L1634.0,713.7 L1645.6,714.9 L1650.2,724.2 L1657.2,738.1 L1666.5,747.4 L1675.8,752.1 L1685.1,766.0 L1689.8,770.7 L1696.7,773.0 L1703.7,780.0 L1708.4,786.9 L1715.3,793.9 L1722.3,805.5 L1724.6,815.1M1481.7,528.9 L1486.4,525.5 L1488.7,528.9 L1486.4,533.1 L1481.7,531.7 L1481.7,528.9M1489.9,523.1 L1494.5,521.5 L1495.7,524.8 L1491.7,526.2 L1489.9,523.1M1517.3,582.4 L1522.4,578.2 L1529.4,577.3 L1531.7,581.2 L1527.1,584.7 L1524.7,588.9 L1518.9,588.2 L1517.3,582.4M1416.7,591.7 L1419.0,588.9 L1421.3,592.2 L1419.7,595.9 L1416.7,594.5 L1416.7,591.7M1298.1,657.9 L1302.8,655.6 L1307.4,659.6 L1303.9,662.6 L1298.8,661.4 L1298.1,657.9M1565.4,611.5 L1567.7,617.3 L1571.2,619.6 L1574.7,623.1 L1575.9,627.7 L1572.4,629.3 L1570.1,624.2 L1566.6,618.4 L1565.4,611.5M1768.8,815.1 L1773.4,809.0 L1780.4,808.3 L1787.4,812.5 L1789.7,815.1M310.0,954.6 L322.1,964.7 L334.3,972.8 L342.3,976.8 L350.4,984.9 L358.5,991.0 L366.6,1001.1 L374.7,1009.1 L384.8,1023.3 L396.9,1029.4 L407.0,1037.4 L413.1,1041.5 L419.1,1039.5 L427.2,1035.4 L435.3,1034.4 L443.4,1038.5 L449.5,1040.5 L459.6,1039.5 L471.7,1040.5 L481.8,1039.5 L491.9,1037.4 L504.0,1035.4 L512.1,1037.4 L522.2,1041.5 L532.3,1045.5 L542.4,1049.6 L552.5,1046.5 L562.7,1041.5 L572.8,1033.4 L582.9,1027.3 L597.0,1023.3 L609.1,1022.3 L613.2,1017.2 L613.2,1003.1 L609.1,995.0 L603.1,986.9 L597.0,980.8 L588.9,974.8 L580.8,972.8 L572.8,970.7 L562.7,966.7 L552.5,961.6 L542.4,958.6 L532.3,961.6 L526.3,961.6 L522.2,956.6 L520.2,950.5 L516.2,947.5 L510.1,948.5 L504.0,950.5 L501.0,952.5M524.2,964.7 L532.3,962.7 L542.4,959.6 L552.5,957.6 L572.8,961.6 L593.0,957.6 L605.1,955.6 L617.2,954.6 L629.4,953.6 L633.4,948.5 L637.4,942.4 L635.4,936.4 L629.4,934.4 L625.3,930.3 L619.2,926.3 L613.2,924.3 L609.1,924.3M625.3,930.3 L633.4,934.4 L643.5,936.4 L653.6,936.4 L659.7,932.3 L657.7,927.3 L653.6,926.3 L651.6,922.2 L649.6,914.1 L647.5,902.0 L643.5,889.9 L637.4,885.8 L633.4,882.8M651.6,902.0 L653.6,906.1 L663.7,908.1 L673.8,912.1 L683.9,914.1 L688.0,910.1 L690.0,902.0 L694.0,900.0 L698.1,904.0 L704.1,906.1 L706.2,900.0 L702.1,889.9 L710.2,893.9 L714.2,898.0 L722.3,896.0 L728.4,900.0 L734.5,904.0 L738.5,900.0 L740.5,893.9 L742.5,902.0 L742.5,910.1 L750.6,914.1 L760.7,916.2 L770.8,918.2 L780.9,920.2 L791.1,926.3 L810.1,926.3M605.1,966.7 L613.2,964.7 L623.3,964.7 L633.4,964.7 L637.4,968.7 L633.4,974.8 L625.3,975.8 L613.2,972.8 L607.1,969.7 L605.1,966.7M593.0,969.7 L599.0,972.8 L609.1,978.8 L619.2,984.9 L629.4,988.9 L633.4,993.0 L633.4,997.0 L631.4,998.0 L627.3,993.0 L617.2,988.9 L605.1,982.9 L597.0,976.8 L593.0,972.8 L593.0,969.7M628.3,936.4 L633.4,935.4 L638.4,939.4 L636.4,944.5 L630.4,945.5 L627.7,940.8 L628.3,936.4M501.0,1044.5 L507.1,1042.5 L513.1,1044.5 L511.1,1047.5 L503.0,1047.5 L501.0,1044.5M542.4,1056.6 L548.5,1054.6 L554.6,1056.6 L551.5,1059.7 L544.5,1059.7 L542.4,1056.6M390.8,805.0 L387.8,809.0 L385.8,815.1 L388.8,821.2 L390.8,827.2 L394.9,833.3 L397.3,835.3 L397.3,1029.4M314.0,940.4 L316.1,934.4 L315.1,928.3 L318.1,926.3 L322.1,924.3 L324.1,922.2M1008.2,815.1 L1002.1,818.1 L981.9,820.2 L971.8,821.2 L951.6,819.1 L937.4,818.1 L929.4,821.2 L926.3,829.3 L927.3,839.4 L933.4,845.4 L937.4,849.5 L941.5,857.6 L944.5,865.6 L945.5,875.7 L949.6,883.8 L955.6,885.8 L961.7,889.9 L971.8,896.0 L977.9,902.0 L983.9,908.1 L988.0,915.2 L992.0,918.2 L996.1,924.3 L1002.1,926.3 L1010.2,928.3 L1018.3,934.4 L1022.3,937.4 L1032.4,936.4 L1034.5,942.4 L1038.5,958.6 L1040.5,976.8 L1042.5,982.9 L1052.7,988.9 L1060.7,995.0 L1064.8,1003.1 L1064.8,1011.2 L1068.8,1019.2 L1074.9,1027.3 L1083.0,1029.4 L1093.1,1028.3 L1103.2,1025.3 L1113.3,1023.3 L1123.4,1020.3 L1133.5,1021.3 L1137.5,1027.3 L1135.5,1033.4 L1131.5,1037.4 L1129.5,1043.5 L1126.4,1051.6 L1127.4,1059.7 L1131.5,1065.7 L1143.6,1069.8 L1153.7,1073.8 L1163.8,1075.8 L1173.9,1075.8 L1184.0,1076.9 L1194.1,1076.9 L1202.2,1083.9 L1200.2,1085.9 L1188.1,1088.0 L1180.0,1090.0 L1173.9,1094.0 L1178.0,1100.1 L1184.0,1104.9M809.9,926.3 L820.2,925.3 L824.3,930.3 L830.3,934.4 L840.4,937.4 L850.5,940.4 L852.6,946.5 L860.6,954.6 L864.7,958.6 L866.7,966.7 L872.8,976.8 L880.8,986.9 L888.9,997.0 L893.0,1002.1 L895.0,1007.1 L893.0,1011.2 L894.0,1017.2 L901.1,1023.3 L909.1,1026.3 L917.2,1029.4 L925.3,1029.4 L929.4,1025.3 L927.3,1023.3 L923.3,1031.4 L922.3,1043.5 L927.3,1047.5 L931.4,1055.6 L937.4,1063.7 L941.5,1061.7 L945.5,1065.7 L953.6,1067.8 L957.7,1069.8 L961.7,1073.8 L967.8,1081.9 L973.8,1090.0 L977.9,1098.1 L981.9,1104.9M1210.3,1045.5 L1216.4,1040.5 L1224.5,1043.5 L1230.5,1051.6 L1228.5,1063.7 L1224.5,1067.8 L1218.4,1063.7 L1210.3,1057.7 L1207.3,1049.6 L1210.3,1045.5M1230.5,1053.6 L1240.6,1050.6 L1254.8,1055.6 L1264.9,1057.7 L1273.0,1061.7 L1279.0,1071.8 L1275.0,1079.9 L1264.9,1075.8 L1254.8,1073.8 L1244.7,1071.8 L1236.6,1075.8 L1234.6,1067.8 L1236.6,1061.7 L1230.5,1053.6M1268.9,1083.9 L1275.0,1081.9 L1281.1,1088.0 L1285.1,1096.1 L1289.1,1104.9M1264.9,1104.9 L1266.9,1092.0 L1268.9,1083.9M1300.1,970.7 L1293.2,972.8 L1291.2,982.9 L1293.2,991.0 L1291.2,999.0 L1297.2,1001.1 L1300.1,1003.1M1671.2,815.0 L1682.8,824.8 L1696.7,830.6 L1708.4,831.7 L1716.5,828.2 L1722.8,821.3 L1724.6,815.0M1702.5,848.0 L1708.4,842.2 L1715.3,844.5 L1718.8,849.2 L1715.3,853.8 L1706.0,853.8 L1701.4,851.5 L1702.5,848.0M1687.4,875.9 L1692.1,872.4 L1696.7,875.9 L1693.2,878.9 L1687.9,878.2 L1687.4,875.9M1735.1,830.6 L1738.6,828.2 L1742.1,835.2 L1739.7,841.0 L1735.1,839.9 L1735.1,830.6M1771.1,812.0 L1778.1,808.5 L1787.4,814.3 L1801.3,825.9 L1815.3,835.2 L1826.9,839.9 L1833.9,851.5 L1840.8,860.8 L1852.5,867.8 L1861.7,871.2 L1861.7,879.4 L1847.8,879.4 L1833.9,872.4 L1824.6,860.8 L1812.9,851.5 L1801.3,842.2 L1789.7,832.9 L1778.1,823.6 L1771.1,818.9 L1769.9,814.3 L1771.1,812.0M1775.8,898.0 L1782.7,894.5 L1789.7,898.0 L1794.3,907.3 L1803.6,909.6 L1799.0,916.6 L1794.3,925.9 L1789.7,928.2 L1787.4,921.2 L1782.7,916.6 L1778.1,911.9 L1774.6,904.9 L1775.8,898.0M1778.1,930.5 L1781.6,927.0 L1785.0,935.2 L1786.2,944.5 L1782.7,951.4 L1779.2,946.8 L1777.6,937.5 L1778.1,930.5M1817.6,925.9 L1824.6,920.0 L1833.9,922.4 L1838.5,931.7 L1835.0,942.1 L1826.9,944.5 L1819.9,939.8 L1816.4,932.8 L1817.6,925.9M1865.0,929.3 L1857.1,930.5 L1847.8,935.2 L1840.8,944.5 L1824.6,949.1 L1833.9,951.4 L1838.5,956.1 L1843.2,963.0 L1852.5,958.4 L1865.0,956.1M1838.5,981.6 L1843.2,974.7 L1850.1,968.9 L1855.9,972.3 L1857.1,984.0 L1852.5,990.9 L1854.8,997.9 L1845.5,995.6 L1838.5,988.6 L1838.5,981.6M1410.9,1018.8 L1416.7,1016.5 L1420.2,1022.3 L1429.5,1022.3 L1441.1,1021.1 L1450.4,1023.5 L1457.3,1028.1 L1464.3,1033.9 L1462.0,1039.7 L1459.7,1043.2 L1452.7,1043.2 L1443.4,1042.1 L1438.7,1043.2 L1434.1,1037.4 L1424.8,1032.8 L1417.8,1028.1 L1413.2,1028.1 L1410.9,1018.8M1290.0,978.2 L1294.6,971.2 L1298.1,968.9 L1299.3,977.0 L1297.0,990.9 L1294.6,997.9 L1299.3,1006.0M483.8,1286.0 L485.8,1271.9 L489.9,1261.8 L493.9,1247.6 L498.0,1231.5 L501.0,1219.3 L501.0,1207.2 L502.0,1195.1 L508.1,1192.1 L516.1,1190.0 L520.2,1185.0 L524.2,1178.9 L527.3,1173.9 L532.3,1171.9 L540.4,1172.9 L543.4,1176.9 L536.4,1185.0 L534.3,1194.1 L548.5,1195.1 L556.6,1203.2 L560.6,1215.3 L564.6,1231.5 L562.6,1241.6 L565.7,1261.8 L565.7,1271.9 L570.7,1279.0 L578.8,1281.0 L582.8,1286.0M498.0,1170.8 L502.0,1165.8 L508.1,1163.8 L513.1,1166.8 L512.1,1174.9 L506.0,1176.9 L501.0,1178.5 L498.4,1174.9 L498.0,1170.8M511.1,1163.8 L514.1,1160.7 L517.2,1163.2 L514.5,1166.8 L511.5,1165.8 L511.1,1163.8M496.9,1120.3 L500.0,1115.3 L505.0,1118.3 L506.0,1123.3 L503.0,1127.4 L499.0,1125.4 L496.9,1120.3M506.0,1125.4 L512.1,1122.3 L518.2,1124.4 L519.2,1128.4 L514.1,1132.4 L508.1,1130.4 L506.0,1125.4M1178.9,1090.0 L1182.0,1100.1 L1188.0,1109.2 L1194.1,1112.2 L1204.2,1116.3 L1214.3,1118.3 L1224.4,1122.3 L1234.5,1127.4 L1248.7,1128.4 L1252.7,1132.4 L1264.8,1131.4 L1274.9,1130.4 L1264.8,1133.5 L1252.7,1134.1 L1240.6,1136.9 L1232.5,1139.5 L1229.5,1143.6 L1232.5,1147.0 L1244.6,1149.0 L1254.7,1152.7 L1259.8,1156.7 L1258.8,1161.7 L1252.7,1165.8 L1244.6,1168.8 L1234.5,1170.4 L1224.4,1170.8 L1216.3,1170.4 L1210.3,1166.8 L1202.2,1163.8 L1196.1,1158.7 L1190.1,1154.7 L1186.0,1150.6 L1180.0,1144.6 L1173.9,1140.5 L1163.8,1139.5 L1153.7,1138.5 L1143.6,1135.5 L1133.5,1133.5 L1123.4,1131.4 L1113.3,1131.4 L1103.2,1132.4 L1095.1,1130.4 L1087.0,1128.4 L1078.9,1124.4 L1068.8,1126.4 L1058.7,1127.4 L1048.6,1125.4 L1042.5,1120.3 L1032.4,1118.3 L1022.3,1121.3 L1018.3,1122.3 L1012.2,1118.3 L1008.2,1114.3 L1002.1,1115.3 L996.0,1116.3 L994.0,1112.2 L988.0,1106.2 L981.9,1105.0M1187.0,1156.7 L1194.1,1149.6 L1204.2,1150.6 L1202.2,1154.7 L1196.1,1156.7 L1192.1,1160.7 L1186.0,1159.7 L1187.0,1156.7M1268.9,1159.7 L1274.9,1157.7 L1281.0,1161.7 L1291.1,1162.8 L1293.1,1167.8 L1285.0,1170.8 L1277.0,1172.9 L1270.9,1168.8 L1268.9,1159.7M1270.9,1090.0 L1274.9,1098.1 L1279.0,1106.2 L1281.0,1114.3 L1289.1,1120.3 L1300.0,1122.3M1423.6,1166.7 L1429.5,1164.4 L1441.1,1166.7 L1450.4,1166.2 L1453.9,1169.0 L1450.4,1171.8 L1438.7,1173.0 L1429.5,1170.2 L1423.6,1169.0 L1423.6,1166.7M1473.6,1215.5 L1478.3,1214.3 L1485.2,1219.0 L1487.6,1221.3 L1482.9,1223.6 L1475.9,1220.2 L1473.6,1215.5M1481.7,1228.3 L1485.2,1227.1 L1492.2,1234.1 L1503.8,1238.7 L1517.8,1243.4 L1527.1,1248.0 L1534.0,1252.7 L1522.4,1255.0 L1513.1,1253.9 L1503.8,1250.4 L1494.5,1245.7 L1487.6,1241.1 L1482.9,1234.1 L1481.7,1228.3M1555.0,1229.5 L1561.9,1227.1 L1568.9,1226.0 L1578.2,1228.3 L1580.5,1234.1 L1575.9,1236.4 L1564.3,1236.4 L1555.0,1234.1 L1555.0,1229.5M1290.0,1103.9 L1299.3,1108.6 L1303.9,1103.9 L1310.9,1102.8 L1314.4,1107.4 L1312.1,1115.6 L1308.6,1122.5 L1303.9,1120.2 L1299.3,1117.9 L1290.0,1120.2M1280.5,457.7 L1274.1,451.3 L1270.8,450.3 L1269.2,456.1 L1274.1,459.4 L1272.5,462.6 L1266.0,463.2 L1263.7,467.5 L1270.8,470.7 L1280.5,469.7" stroke="#000" stroke-width="2.2" fill="none" stroke-linejoin="round"/>
<path d="M312.3,288.1 361.5,291.8 358.6,296.7 384.7,291.0 359.8,281.4 361.9,286.7 312.7,282.9ZM383.9,288.0 429.0,300.8 425.2,305.0 451.9,304.6 429.4,290.2 430.4,295.8 385.3,283.0ZM455.7,287.9 495.4,303.9 491.1,307.6 517.7,310.1 496.8,293.4 497.3,299.1 457.7,283.1ZM528.3,288.0 565.4,295.3 561.9,299.9 588.5,297.3 564.9,284.8 566.4,290.3 529.3,283.0ZM600.5,288.0 628.1,292.0 624.9,296.7 651.3,292.8 627.1,281.5 628.9,287.0 601.3,283.0ZM672.7,288.0 698.9,291.0 695.8,295.8 722.1,291.0 697.5,280.5 699.5,285.9 673.3,283.0ZM744.8,288.0 775.0,291.5 771.9,296.3 798.2,291.5 773.6,281.0 775.6,286.4 745.4,283.0ZM817.1,288.1 834.9,288.5 832.2,293.5 858.0,286.4 832.6,278.2 835.0,283.3 817.3,282.9ZM889.5,288.1 905.6,287.1 903.3,292.3 928.4,283.1 902.4,277.0 905.2,282.0 889.1,282.9ZM960.9,288.0 979.2,291.9 975.7,296.3 1002.3,294.1 978.8,281.3 980.3,286.9 961.9,283.0ZM1033.5,288.1 1048.2,288.1 1045.6,293.2 1071.2,285.5 1045.6,277.8 1048.2,282.9 1033.5,282.9ZM1105.6,288.1 1109.1,288.1 1106.5,293.2 1132.2,286.0 1106.8,277.8 1109.2,283.0 1105.6,282.9ZM1176.9,287.7 1179.1,288.4 1175.4,292.0 1199.2,293.1 1180.0,279.1 1180.6,284.1 1178.5,283.4ZM1247.9,287.2 1249.7,289.1 1244.2,290.7 1267.1,304.1 1255.4,280.3 1253.4,285.6 1251.7,283.8ZM1320.8,285.3 1320.6,286.5 1318.6,285.0 1320.3,296.6 1325.2,286.0 1322.8,286.8 1323.0,285.7ZM1393.1,285.0 1392.6,285.9 1391.3,284.1 1389.3,294.6 1396.7,286.9 1394.4,286.9 1394.9,286.0ZM1466.8,284.4 1465.7,283.6 1468.3,282.1 1454.8,278.2 1463.9,288.9 1464.2,285.9 1465.4,286.6ZM1537.9,284.2 1536.5,284.5 1537.2,281.5 1524.9,288.8 1539.2,289.5 1537.2,287.2 1538.5,286.8ZM1610.0,284.1 1608.6,284.4 1609.5,281.2 1596.1,288.2 1611.1,289.8 1609.1,287.2 1610.6,286.9ZM1681.1,284.3 1679.9,285.6 1678.6,282.0 1670.6,298.2 1686.2,289.0 1682.5,288.0 1683.7,286.7ZM1754.2,283.8 1752.5,284.1 1753.6,280.4 1737.4,288.6 1755.4,290.6 1753.1,287.5 1754.8,287.2ZM1825.8,283.3 1823.6,284.0 1824.3,278.8 1804.2,293.3 1828.9,292.2 1825.1,288.5 1827.4,287.7ZM312.0,360.1 356.2,368.4 352.7,372.9 379.3,370.1 355.6,357.8 357.1,363.3 313.0,355.1ZM383.9,360.1 428.5,371.8 424.7,376.1 451.4,375.2 428.6,361.2 429.8,366.9 385.3,355.1ZM456.1,360.1 496.5,370.2 492.8,374.5 519.5,373.3 496.5,359.6 497.8,365.2 457.3,355.1ZM528.1,360.1 558.9,368.6 555.1,372.9 581.8,372.3 559.2,358.1 560.3,363.7 529.5,355.1ZM600.4,360.1 631.5,366.3 628.0,370.8 654.6,368.3 631.0,355.8 632.5,361.3 601.4,355.1ZM672.9,360.1 695.4,361.4 692.5,366.4 718.5,360.1 693.4,351.0 695.6,356.3 673.1,355.0ZM744.9,360.1 764.1,361.4 761.2,366.4 787.3,360.4 762.3,351.0 764.5,356.3 745.3,355.0ZM817.7,360.1 839.4,355.5 838.0,361.0 861.4,348.2 834.8,346.0 838.3,350.5 816.7,355.1ZM890.2,360.0 914.3,350.5 913.8,356.2 934.8,339.7 908.2,341.9 912.4,345.7 888.4,355.2ZM962.3,360.0 982.9,351.8 982.4,357.5 1003.4,341.0 976.8,343.3 981.0,347.1 960.5,355.2ZM1032.6,360.0 1044.1,364.3 1039.9,368.2 1066.6,370.1 1045.4,353.9 1046.0,359.6 1034.4,355.2ZM1104.9,359.9 1107.2,360.6 1103.5,364.6 1128.9,364.6 1107.7,350.6 1108.6,356.0 1106.3,355.3ZM1176.4,359.8 1180.2,361.9 1175.4,365.1 1201.5,371.0 1183.0,351.7 1182.7,357.5 1179.0,355.4ZM1247.9,357.7 1248.0,359.6 1244.0,358.0 1251.1,376.8 1255.6,357.2 1251.9,359.4 1251.7,357.5ZM1319.6,357.9 1319.9,360.2 1315.0,358.4 1324.6,380.6 1328.8,356.8 1324.5,359.6 1324.2,357.3ZM1392.2,357.4 1392.1,359.2 1388.7,357.1 1392.5,375.2 1399.3,358.0 1395.6,359.5 1395.8,357.7ZM1464.6,356.1 1463.1,357.6 1461.7,353.1 1451.2,372.3 1470.5,362.1 1466.1,360.5 1467.6,359.1ZM1536.9,356.4 1535.7,357.8 1534.2,354.1 1526.7,371.0 1542.2,361.0 1538.4,360.1 1539.5,358.7ZM1609.0,355.9 1607.3,357.2 1606.5,352.5 1593.4,370.4 1614.1,362.7 1609.9,360.6 1611.6,359.3ZM1681.4,356.4 1680.2,357.4 1679.5,354.0 1670.6,367.3 1685.3,361.1 1682.2,359.7 1683.4,358.8ZM1753.1,355.4 1750.6,357.0 1750.0,351.3 1732.5,371.5 1758.2,364.3 1753.3,361.3 1755.9,359.7ZM1825.4,355.4 1823.1,356.6 1822.8,350.9 1804.2,370.1 1830.3,364.3 1825.6,361.1 1827.8,359.8ZM314.1,431.6 334.7,414.3 336.1,419.9 350.7,397.5 326.2,408.1 331.4,410.4 310.9,427.7ZM384.3,432.2 428.7,437.4 425.6,442.2 451.9,437.5 427.4,426.9 429.3,432.3 384.9,427.1ZM456.2,432.2 490.9,438.6 487.4,443.2 514.0,440.3 490.2,428.1 491.8,433.6 457.2,427.1ZM528.0,432.1 559.1,441.8 555.1,446.0 581.8,446.3 559.7,431.3 560.6,437.0 529.6,427.2ZM600.7,432.2 621.7,433.6 618.8,438.5 644.9,432.6 619.9,423.2 622.1,428.5 601.1,427.1ZM672.8,432.2 697.7,434.2 694.8,439.1 720.9,433.5 696.0,423.8 698.1,429.1 673.2,427.1ZM745.3,432.2 757.9,431.1 755.8,436.4 780.6,426.6 754.4,421.1 757.4,426.0 744.9,427.1ZM818.0,432.1 833.8,427.0 833.0,432.6 855.0,417.5 828.3,418.0 832.3,422.1 816.4,427.2ZM890.9,431.6 906.9,418.9 908.0,424.5 923.3,402.6 898.5,412.5 903.7,414.9 887.7,427.6ZM962.0,432.1 975.5,429.2 974.1,434.7 997.4,421.7 970.7,419.7 974.4,424.2 960.8,427.1ZM1033.8,432.2 1050.8,430.5 1048.8,435.9 1073.5,425.7 1047.3,420.6 1050.3,425.4 1033.2,427.1ZM1103.6,431.2 1116.3,448.0 1110.6,449.0 1132.2,464.8 1122.9,439.8 1120.3,444.9 1107.6,428.1ZM1175.3,430.6 1180.1,442.5 1174.4,442.1 1191.0,463.0 1188.7,436.4 1184.8,440.7 1180.1,428.7ZM1247.4,429.7 1247.4,432.1 1242.5,429.9 1250.5,453.9 1257.1,429.4 1252.3,432.0 1252.2,429.6ZM1319.5,429.5 1319.4,431.9 1314.7,429.3 1320.6,453.6 1329.1,430.0 1324.2,432.2 1324.3,429.8ZM1392.8,429.7 1392.9,430.9 1390.4,429.8 1394.4,441.5 1397.6,429.5 1395.2,430.8 1395.2,429.6ZM1464.1,428.1 1456.7,437.7 1454.2,432.6 1444.8,457.6 1466.4,441.9 1460.8,440.8 1468.1,431.2ZM1536.3,428.0 1534.6,429.8 1532.5,424.6 1521.3,448.5 1543.9,434.7 1538.4,433.2 1540.1,431.3ZM1608.1,428.4 1604.4,434.8 1601.2,430.1 1595.2,456.1 1614.6,437.7 1608.8,437.4 1612.5,430.9ZM1680.2,428.4 1678.3,431.7 1675.1,426.9 1669.3,453.0 1688.5,434.4 1682.8,434.2 1684.6,430.9ZM1752.5,428.1 1745.1,437.5 1742.6,432.3 1732.9,457.2 1754.7,441.8 1749.1,440.6 1756.5,431.2ZM1824.5,428.1 1816.8,438.9 1814.1,433.8 1805.3,459.0 1826.5,442.8 1820.9,441.9 1828.7,431.1ZM313.7,501.8 313.8,500.6 316.0,502.0 313.5,490.1 309.0,501.4 311.4,500.4 311.3,501.6ZM384.8,502.8 386.0,502.6 385.2,505.2 396.4,499.6 384.0,498.1 385.6,500.3 384.4,500.5ZM457.4,504.1 470.5,500.5 469.4,506.1 492.0,491.9 465.3,491.3 469.1,495.6 456.0,499.2ZM530.0,503.9 552.1,492.0 552.3,497.7 571.2,478.8 545.0,484.2 549.7,487.5 527.6,499.4ZM601.2,504.2 633.3,500.6 631.3,506.0 655.9,495.5 629.6,490.7 632.7,495.5 600.6,499.1ZM672.0,504.0 699.8,515.5 695.5,519.2 722.1,521.9 701.4,505.0 701.8,510.8 674.0,499.3ZM744.5,504.2 753.9,506.3 750.2,510.7 776.9,508.8 753.6,495.7 755.0,501.3 745.7,499.2ZM818.1,503.0 819.5,502.1 819.9,505.8 831.0,492.5 814.5,497.5 817.7,499.4 816.3,500.3ZM889.5,503.8 891.7,503.6 889.9,508.2 911.1,499.7 888.7,495.1 891.3,499.3 889.1,499.5ZM961.9,504.2 965.1,503.5 963.6,509.0 987.1,496.3 960.5,494.0 964.0,498.5 960.9,499.2ZM1032.9,504.2 1036.0,504.9 1032.3,509.3 1059.0,507.6 1035.8,494.3 1037.1,499.9 1034.1,499.2ZM1105.1,503.3 1106.7,503.8 1104.1,506.5 1121.6,506.6 1107.1,496.9 1107.7,500.6 1106.1,500.1ZM1176.8,502.9 1178.1,503.8 1175.1,505.4 1190.1,510.3 1180.3,497.9 1179.8,501.3 1178.6,500.4ZM1247.7,500.2 1240.3,510.3 1237.7,505.3 1228.9,530.5 1250.1,514.3 1244.5,513.3 1251.9,503.2ZM1320.1,500.5 1318.9,502.3 1316.4,498.1 1310.1,520.1 1327.4,505.2 1322.6,504.7 1323.7,502.8ZM1394.0,504.2 1391.8,502.9 1391.8,500.4 1394.0,499.1 1396.2,500.4 1396.2,502.9 1394.0,504.2ZM1464.0,500.4 1462.8,502.6 1459.8,498.0 1453.9,522.8 1472.4,505.3 1467.0,505.0 1468.2,502.9ZM1536.2,500.1 1530.3,507.6 1527.8,502.5 1518.2,527.4 1540.0,511.9 1534.4,510.8 1540.2,503.2ZM1608.1,500.4 1602.2,510.6 1599.0,505.9 1593.0,531.9 1612.4,513.5 1606.7,513.2 1612.5,502.9ZM1680.0,500.7 1677.5,506.5 1673.8,502.1 1670.8,528.7 1687.9,508.2 1682.2,508.5 1684.8,502.7ZM1752.3,500.4 1746.6,510.3 1743.4,505.6 1737.4,531.6 1756.8,513.2 1751.0,512.9 1756.7,502.9ZM1824.5,500.2 1814.6,514.4 1811.9,509.3 1803.5,534.7 1824.5,518.1 1818.8,517.3 1828.7,503.1ZM311.4,575.3 313.0,576.4 309.2,578.5 328.9,584.7 315.8,568.7 315.2,573.1 313.6,572.0ZM384.1,576.1 401.5,579.3 398.0,583.9 424.6,581.0 400.8,568.8 402.4,574.3 385.1,571.1ZM457.1,575.9 459.4,575.4 458.0,580.4 479.3,569.2 455.4,566.8 458.5,570.9 456.3,571.4ZM529.4,574.1 529.9,573.5 530.6,575.0 533.5,567.7 527.0,572.2 528.7,572.6 528.2,573.2ZM602.6,574.6 603.6,573.0 605.9,576.6 610.9,557.0 595.9,570.6 600.2,571.0 599.2,572.6ZM674.8,574.6 675.8,572.8 678.4,576.6 683.0,555.6 667.6,570.6 672.2,570.8 671.2,572.6ZM747.7,573.8 748.2,566.9 753.1,569.8 747.3,543.7 737.8,568.7 743.1,566.5 742.5,573.4ZM818.2,574.3 818.9,573.3 820.2,575.7 824.1,563.7 814.2,571.6 816.9,571.9 816.2,572.9ZM890.6,575.5 892.4,574.2 893.1,579.2 907.9,561.0 885.5,568.0 889.9,570.5 888.0,571.8ZM961.7,575.0 963.0,574.6 962.3,577.6 974.7,570.5 960.5,569.6 962.4,572.0 961.1,572.3ZM1032.8,575.4 1034.6,576.1 1031.4,578.9 1051.2,580.7 1035.6,568.3 1036.0,572.6 1034.2,571.9ZM1103.6,575.2 1106.1,578.5 1100.5,579.6 1122.2,595.2 1112.7,570.2 1110.2,575.4 1107.6,572.1ZM1175.7,575.2 1185.9,587.9 1180.3,589.1 1202.3,604.3 1192.3,579.5 1189.9,584.7 1179.7,572.0ZM1247.4,574.6 1249.9,580.4 1244.2,580.0 1261.1,600.7 1258.3,574.1 1254.6,578.5 1252.2,572.6ZM1319.7,572.4 1318.6,574.6 1315.4,570.1 1310.1,595.2 1328.4,577.2 1322.9,577.0 1324.1,574.8ZM1394.9,572.5 1393.7,571.6 1396.6,570.1 1382.4,565.0 1391.4,577.1 1392.0,573.9 1393.1,574.8ZM1467.0,575.1 1468.5,574.2 1468.9,578.0 1480.7,564.3 1463.3,569.2 1466.6,571.2 1465.2,572.2ZM1535.8,572.8 1530.8,588.4 1526.7,584.4 1526.2,611.1 1541.3,589.1 1535.7,589.9 1540.6,574.4ZM1608.0,572.5 1602.1,584.7 1598.6,580.1 1594.3,606.5 1612.4,586.8 1606.7,586.9 1612.6,574.7ZM1680.0,572.7 1675.0,586.2 1671.1,582.0 1669.3,608.7 1685.4,587.4 1679.8,588.0 1684.8,574.5ZM1751.9,573.5 1751.2,587.9 1746.2,585.0 1752.5,611.0 1761.5,585.8 1756.3,588.1 1757.1,573.8ZM1824.3,572.5 1821.4,578.8 1817.8,574.3 1813.9,600.7 1831.7,580.8 1826.0,580.9 1828.9,574.7ZM310.9,647.5 325.6,658.9 320.4,661.4 345.3,671.1 329.8,649.3 328.7,654.9 314.1,643.5ZM383.6,644.2 382.3,645.3 381.5,641.7 371.9,656.0 387.7,649.3 384.4,647.8 385.6,646.8ZM457.5,645.5 457.5,644.8 459.0,645.5 456.7,637.9 454.4,645.5 455.9,644.8 455.9,645.5ZM528.8,648.1 526.6,646.8 526.6,644.2 528.8,643.0 531.0,644.2 531.0,646.8 528.8,648.1ZM602.9,646.4 603.8,644.4 606.9,648.1 609.5,625.6 594.9,642.9 599.8,642.7 598.9,644.7ZM674.4,645.1 673.9,643.7 677.1,644.2 668.5,631.9 668.9,646.9 671.2,644.6 671.6,646.0ZM745.6,644.4 744.5,643.9 746.6,642.3 734.3,640.5 743.6,648.8 743.5,646.1 744.6,646.6ZM818.8,646.7 820.0,645.0 822.1,649.0 828.8,629.2 812.3,642.0 816.7,642.7 815.6,644.4ZM886.7,645.6 888.0,643.3 890.5,643.3 891.9,645.5 890.6,647.7 888.1,647.8 886.7,645.6ZM962.7,643.3 953.0,637.5 957.8,634.4 931.9,627.8 949.9,647.6 950.3,641.9 960.1,647.7ZM1035.6,646.9 1040.8,639.0 1043.7,643.9 1051.2,618.3 1030.8,635.6 1036.5,636.2 1031.4,644.1ZM1105.4,648.1 1113.5,648.6 1110.7,653.5 1136.7,647.4 1111.6,638.2 1113.9,643.5 1105.8,643.0ZM1177.0,648.0 1186.0,650.6 1182.1,654.8 1208.8,654.7 1186.4,640.1 1187.4,645.7 1178.4,643.1ZM1248.2,647.5 1262.4,658.8 1257.2,661.2 1282.0,671.1 1266.7,649.2 1265.6,654.8 1251.4,643.5ZM1324.1,644.2 1310.3,621.5 1316.0,621.1 1296.1,603.2 1302.9,629.1 1305.9,624.2 1319.7,646.8ZM1393.5,647.0 1395.0,647.4 1392.6,649.8 1408.4,650.1 1395.4,641.2 1395.9,644.5 1394.5,644.1ZM1463.6,646.0 1466.6,661.6 1461.1,660.1 1473.4,683.8 1476.1,657.2 1471.6,660.7 1468.6,645.0ZM1535.7,645.2 1534.3,656.1 1529.5,653.0 1534.0,679.3 1544.8,654.8 1539.4,656.8 1540.7,645.8ZM1607.8,645.2 1605.1,666.0 1600.3,662.8 1604.7,689.2 1615.6,664.8 1610.2,666.7 1612.8,645.8ZM1679.8,645.5 1680.1,664.4 1674.9,661.9 1682.9,687.4 1690.3,661.7 1685.2,664.3 1685.0,645.5ZM1752.0,646.2 1756.5,663.4 1750.9,662.2 1764.7,685.1 1765.7,658.4 1761.4,662.2 1757.0,644.9ZM1824.1,644.8 1818.5,665.4 1814.2,661.6 1814.8,688.3 1829.0,665.7 1823.4,666.8 1829.1,646.2ZM310.6,719.0 316.8,726.2 311.2,727.6 333.8,741.9 322.8,717.5 320.7,722.8 314.4,715.6ZM383.6,719.7 405.3,729.2 400.9,732.9 427.4,736.2 407.1,718.8 407.4,724.6 385.6,715.0ZM456.0,719.8 471.9,724.5 468.0,728.6 494.7,728.5 472.3,713.9 473.3,719.5 457.4,714.9ZM528.1,719.0 529.8,719.7 526.6,722.4 545.7,724.5 531.0,712.3 531.2,716.3 529.5,715.6ZM599.2,719.0 600.9,720.7 595.9,722.3 617.6,734.0 605.9,712.3 604.2,717.3 602.6,715.7ZM673.7,717.9 674.3,717.2 675.1,719.0 678.5,710.3 670.9,715.7 672.8,716.1 672.3,716.8ZM745.7,718.9 747.2,718.3 746.8,722.0 760.6,711.5 743.4,712.7 746.1,715.2 744.5,715.8ZM818.8,718.6 820.1,717.0 822.0,721.1 829.8,701.3 812.4,713.5 816.9,714.5 815.6,716.1ZM889.6,718.2 890.5,717.9 890.2,720.1 898.4,714.2 888.4,714.6 889.9,716.1 889.0,716.4ZM962.3,714.9 901.4,693.2 905.5,689.3 878.8,687.9 900.3,703.7 899.6,698.0 960.5,719.7ZM1036.0,716.6 1021.6,665.4 1027.2,666.5 1012.9,643.9 1012.4,670.6 1016.7,666.8 1031.0,718.0ZM1108.2,717.4 1108.5,707.0 1113.5,709.7 1106.7,683.9 1098.2,709.2 1103.4,706.8 1103.0,717.2ZM1179.4,715.4 1176.3,712.5 1181.7,710.5 1157.7,698.7 1171.2,721.8 1172.8,716.3 1176.0,719.2ZM1251.8,718.3 1252.8,716.3 1255.7,720.3 1259.8,697.6 1243.9,714.3 1248.8,714.3 1247.8,716.3ZM1321.9,719.9 1319.7,718.6 1319.7,716.0 1321.9,714.8 1324.1,716.0 1324.1,718.6 1321.9,719.9ZM1394.2,719.3 1396.2,719.0 1394.7,723.1 1413.3,714.9 1393.3,711.5 1395.7,715.1 1393.8,715.4ZM1464.0,715.9 1459.4,723.0 1456.5,718.1 1449.0,743.7 1469.4,726.4 1463.7,725.8 1468.2,718.7ZM1536.0,716.1 1520.7,742.9 1517.5,738.2 1511.6,764.2 1530.9,745.7 1525.2,745.4 1540.4,718.6ZM1608.7,715.3 1584.9,734.1 1583.7,728.5 1568.4,750.4 1593.2,740.6 1588.1,738.1 1611.9,719.3ZM1682.4,718.5 1683.5,718.5 1682.4,720.8 1693.9,717.4 1682.4,713.9 1683.6,716.2 1682.4,716.2ZM1752.1,718.2 1760.6,742.3 1754.9,741.5 1770.7,763.1 1769.4,736.4 1765.4,740.5 1756.9,716.5ZM1825.7,718.1 1826.4,719.0 1823.8,719.5 1833.9,726.5 1829.4,715.1 1828.2,717.5 1827.5,716.6ZM313.8,791.3 318.1,788.8 318.4,794.5 336.9,775.2 310.8,781.1 315.6,784.3 311.2,786.8ZM385.3,787.4 383.7,786.8 386.6,784.3 368.8,782.3 382.6,793.8 382.4,789.9 383.9,790.6ZM458.4,787.3 456.6,785.6 461.7,783.8 439.2,772.3 451.7,794.3 453.3,789.1 455.0,790.8ZM527.9,787.6 526.5,788.5 526.2,784.7 514.4,797.7 531.4,793.3 528.2,791.3 529.7,790.5ZM600.7,790.0 601.6,790.2 600.3,791.9 610.4,791.0 601.5,786.2 602.1,788.3 601.1,788.1ZM672.5,790.5 674.0,791.0 671.6,793.5 687.9,793.7 674.4,784.6 675.0,788.0 673.5,787.5ZM743.7,788.7 743.4,790.1 741.0,788.0 741.8,802.8 749.2,790.0 746.1,790.7 746.5,789.4ZM818.1,786.7 815.8,785.7 820.0,782.0 793.7,779.5 814.3,796.1 813.9,790.4 816.2,791.4ZM888.3,787.8 887.0,788.7 886.4,785.2 876.6,798.8 892.2,792.8 889.0,791.3 890.3,790.3ZM960.4,789.9 961.3,790.8 958.5,791.5 969.8,798.8 964.3,786.5 963.2,789.2 962.4,788.2ZM1036.0,789.7 1051.5,730.3 1055.8,734.0 1054.8,707.3 1040.9,730.2 1046.5,729.0 1031.0,788.4ZM1108.1,788.6 1103.2,760.5 1108.7,762.1 1096.7,738.2 1093.6,764.8 1098.2,761.4 1103.1,789.5ZM1178.9,787.3 1177.2,786.1 1181.3,783.9 1160.7,777.0 1174.1,794.1 1174.8,789.5 1176.5,790.7ZM1249.2,788.3 1248.5,789.0 1247.9,787.0 1242.9,795.2 1251.7,791.1 1249.7,790.3 1250.4,789.7ZM1323.6,789.3 1323.9,787.6 1327.0,789.8 1324.6,771.9 1316.8,788.2 1320.5,787.0 1320.2,788.8ZM1393.1,790.3 1394.4,791.2 1391.4,793.0 1407.1,797.7 1396.6,785.1 1396.2,788.6 1394.9,787.7ZM1464.9,787.9 1463.8,789.2 1462.4,785.8 1455.2,801.4 1469.8,792.3 1466.2,791.4 1467.3,790.1ZM1538.5,791.6 1544.2,790.9 1542.3,796.3 1566.8,785.5 1540.5,781.0 1543.6,785.8 1537.9,786.5ZM1608.0,790.1 1613.9,802.7 1608.1,802.6 1625.9,822.5 1622.1,796.1 1618.5,800.6 1612.6,787.9ZM1681.6,786.6 1667.7,791.1 1668.6,785.4 1646.6,800.6 1673.3,800.0 1669.3,796.0 1683.2,791.5ZM1752.5,787.5 1738.1,805.9 1735.6,800.7 1725.9,825.6 1747.7,810.2 1742.1,809.1 1756.5,790.6ZM1826.1,786.7 1823.8,787.2 1825.1,782.1 1803.5,794.1 1828.1,796.0 1824.8,791.8 1827.1,791.3ZM315.1,860.6 313.8,862.8 311.2,862.8 309.9,860.6 311.2,858.4 313.8,858.4 315.1,860.6ZM385.6,858.7 383.7,857.7 387.6,854.8 365.1,850.6 381.6,866.5 381.7,861.6 383.6,862.6ZM455.9,859.3 454.6,860.1 454.4,856.6 443.4,868.4 459.0,864.6 456.1,862.7 457.5,862.0ZM528.2,859.5 527.0,860.1 526.9,857.1 517.2,867.0 530.7,864.1 528.3,862.4 529.4,861.8ZM603.5,860.6 602.2,862.8 599.6,862.8 598.3,860.6 599.6,858.4 602.2,858.4 603.5,860.6ZM673.2,861.2 673.8,861.0 673.7,862.4 678.8,858.4 672.3,858.9 673.4,859.8 672.8,860.0ZM745.2,861.6 746.2,861.5 745.4,863.6 755.1,859.7 744.8,857.6 746.0,859.5 745.0,859.6ZM815.6,859.7 814.7,861.2 812.5,857.8 807.9,876.1 821.8,863.4 817.8,863.1 818.7,861.6ZM890.9,862.1 892.4,860.5 894.2,865.2 904.4,844.4 884.4,856.1 889.2,857.5 887.7,859.1ZM961.4,862.7 963.5,862.7 961.5,867.0 982.5,860.2 961.3,854.3 963.5,858.5 961.4,858.5ZM1036.0,861.2 1040.4,842.7 1044.8,846.4 1043.3,819.7 1029.9,842.8 1035.4,841.5 1031.0,860.0ZM1107.0,858.5 1094.1,849.7 1099.1,846.9 1073.6,838.9 1090.5,859.6 1091.2,854.0 1104.2,862.7ZM1179.3,858.6 1166.2,847.9 1171.5,845.6 1146.8,835.3 1161.7,857.5 1163.0,851.9 1176.1,862.6ZM1251.3,858.6 1240.4,850.3 1245.5,847.8 1220.5,838.4 1236.3,860.0 1237.3,854.4 1248.3,862.7ZM1322.6,858.2 1313.8,855.6 1317.7,851.4 1291.0,851.5 1313.4,866.1 1312.4,860.5 1321.2,863.1ZM1394.0,858.1 1379.5,858.3 1382.0,853.1 1356.5,861.1 1382.2,868.5 1379.6,863.4 1394.0,863.2ZM1467.4,858.4 1451.4,848.9 1456.2,845.8 1430.3,839.3 1448.4,859.0 1448.8,853.3 1464.8,862.8ZM1540.3,859.1 1519.2,830.1 1524.8,829.1 1503.6,812.9 1512.4,838.2 1515.1,833.1 1536.1,862.1ZM1610.6,858.1 1564.4,851.7 1567.6,847.0 1541.2,851.1 1565.5,862.2 1563.7,856.8 1610.0,863.2ZM1681.3,858.3 1653.9,872.0 1653.9,866.3 1634.4,884.6 1660.7,880.0 1656.2,876.6 1683.5,862.9ZM1752.7,858.8 1738.1,873.7 1736.2,868.3 1723.8,891.9 1747.2,879.0 1741.8,877.3 1756.3,862.4ZM1824.2,859.8 1822.6,864.6 1818.5,860.6 1818.0,887.3 1833.2,865.3 1827.5,866.2 1829.0,861.4ZM315.1,932.1 313.8,934.3 311.2,934.3 309.9,932.1 311.2,929.9 313.8,929.9 315.1,932.1ZM385.1,930.5 383.5,930.1 386.0,927.3 368.8,927.6 383.2,936.8 382.6,933.2 384.2,933.7ZM457.6,930.6 456.1,929.6 459.6,927.6 441.6,922.6 453.8,936.6 454.2,932.6 455.8,933.6ZM529.9,931.4 529.2,930.4 532.0,930.1 522.1,921.5 525.6,934.1 527.1,931.7 527.7,932.8ZM602.4,931.5 601.9,930.0 605.5,930.4 595.3,916.6 596.2,933.8 598.8,931.1 599.4,932.6ZM674.6,930.1 629.9,895.2 635.1,892.7 610.2,883.0 625.6,904.8 626.8,899.2 671.4,934.1ZM746.9,930.3 719.5,903.5 724.9,901.7 701.2,889.3 714.2,912.7 715.9,907.2 743.3,933.9ZM819.1,930.7 817.7,928.9 822.8,928.0 803.7,913.5 811.6,936.1 814.0,931.6 815.3,933.4ZM888.2,932.4 888.5,933.4 886.1,932.9 892.0,942.7 892.5,931.3 890.6,932.9 890.4,931.8ZM959.6,933.1 960.6,935.0 955.9,935.3 972.0,950.3 966.9,928.9 964.3,932.8 963.2,931.0ZM1035.4,933.8 1050.2,917.7 1052.2,923.0 1063.9,899.0 1040.9,912.6 1046.4,914.2 1031.6,930.4ZM1107.8,930.8 1091.2,902.9 1096.9,902.5 1077.2,884.4 1083.7,910.3 1086.8,905.5 1103.4,933.4ZM1179.0,929.9 1141.6,907.9 1146.4,904.7 1120.4,898.4 1138.6,918.0 1139.0,912.3 1176.4,934.3ZM1251.6,930.3 1232.3,910.7 1237.7,908.9 1214.3,896.1 1226.8,919.7 1228.7,914.3 1248.0,933.9ZM1323.5,930.1 1300.6,912.0 1305.8,909.6 1281.0,899.7 1296.3,921.6 1297.5,916.0 1320.3,934.1ZM1394.9,929.7 1354.9,914.3 1359.1,910.4 1332.5,908.4 1353.6,924.8 1353.1,919.1 1393.1,934.5ZM1467.5,929.9 1430.5,906.3 1435.4,903.4 1409.7,896.1 1427.1,916.3 1427.7,910.6 1464.7,934.2ZM1539.7,930.0 1489.8,895.4 1494.8,892.7 1469.4,884.4 1486.1,905.3 1486.9,899.6 1536.7,934.2ZM1611.4,929.8 1565.0,908.7 1569.5,905.1 1543.0,901.5 1563.1,919.1 1562.9,913.4 1609.2,934.4ZM1683.1,929.6 1655.4,921.5 1659.3,917.3 1632.6,917.4 1655.0,932.0 1654.0,926.4 1681.7,934.5ZM1754.3,929.5 1728.3,931.9 1730.4,926.5 1705.6,936.5 1731.8,941.8 1728.8,937.0 1754.7,934.6ZM1825.9,929.6 1818.2,931.7 1819.4,926.1 1796.6,940.1 1823.3,940.9 1819.5,936.6 1827.3,934.6ZM315.1,1003.4 313.8,1005.6 311.2,1005.6 309.9,1003.4 311.2,1001.2 313.8,1001.2 315.1,1003.4ZM385.4,1001.0 373.6,997.1 377.6,993.0 350.9,992.3 372.8,1007.6 372.0,1002.0 383.8,1005.8ZM457.9,1001.7 456.2,1000.5 460.2,998.3 439.8,991.6 453.2,1008.5 453.8,1003.9 455.5,1005.1ZM529.5,1001.9 527.9,1001.2 530.9,998.8 513.3,996.5 526.7,1008.1 526.6,1004.3 528.1,1005.0ZM602.6,1001.5 598.3,997.7 603.6,995.6 579.4,984.3 593.4,1007.1 594.9,1001.5 599.2,1005.3ZM674.6,1001.5 622.3,957.6 627.5,955.3 603.0,944.7 617.7,967.0 619.0,961.5 671.4,1005.4ZM746.9,1001.6 699.6,956.1 705.0,954.2 681.2,942.0 694.3,965.3 696.0,959.8 743.3,1005.3ZM819.1,1001.7 775.3,952.0 780.9,950.6 758.2,936.4 769.4,960.7 771.5,955.4 815.3,1005.1ZM890.3,1001.1 876.8,995.0 881.2,991.4 854.7,987.9 874.9,1005.4 874.7,999.7 888.3,1005.8ZM960.3,1003.2 960.0,1004.3 958.0,1002.7 958.9,1014.7 964.8,1004.2 962.3,1004.8 962.5,1003.7ZM1035.8,1002.3 1033.7,998.0 1039.5,998.1 1021.5,978.3 1025.6,1004.7 1029.1,1000.2 1031.2,1004.5ZM1107.5,1004.0 1108.1,1002.1 1111.3,1005.3 1111.8,984.3 1099.9,1001.6 1104.3,1000.9 1103.7,1002.8ZM1179.8,1002.0 1164.6,979.5 1170.2,978.8 1149.5,961.9 1157.5,987.4 1160.3,982.4 1175.6,1004.9ZM1251.8,1001.8 1214.6,955.7 1220.2,954.4 1198.2,939.3 1208.3,964.1 1210.7,958.9 1247.8,1005.0ZM1323.5,1001.4 1283.0,969.6 1288.2,967.2 1263.3,957.4 1278.7,979.3 1279.8,973.7 1320.3,1005.4ZM1395.3,1001.2 1349.6,975.6 1354.4,972.4 1328.3,966.5 1346.9,985.7 1347.1,980.0 1392.7,1005.6ZM1467.3,1001.2 1423.8,977.4 1428.5,974.1 1402.4,968.6 1421.2,987.6 1421.4,981.9 1464.9,1005.7ZM1538.9,1001.0 1490.4,986.6 1494.3,982.4 1467.6,982.5 1490.0,997.1 1489.0,991.5 1537.5,1005.9ZM1611.6,1001.2 1566.5,975.0 1571.3,971.8 1545.3,965.6 1563.6,985.1 1563.9,979.4 1609.0,1005.6ZM1683.3,1001.0 1633.3,983.1 1637.4,979.1 1610.7,977.7 1632.2,993.6 1631.5,987.9 1681.5,1005.8ZM1755.3,1001.0 1720.2,990.0 1724.1,985.9 1697.4,985.6 1719.6,1000.6 1718.6,994.9 1753.7,1005.9ZM1827.0,1000.9 1811.0,998.0 1814.4,993.4 1787.9,996.5 1811.8,1008.6 1810.1,1003.1 1826.2,1005.9ZM313.7,1072.3 262.2,1045.8 266.8,1042.5 240.5,1037.6 259.8,1056.1 259.8,1050.4 311.3,1076.9ZM385.8,1072.3 334.1,1045.9 338.7,1042.5 312.4,1037.7 331.7,1056.2 331.7,1050.5 383.4,1076.9ZM457.8,1072.3 400.2,1044.6 404.7,1041.1 378.3,1036.9 398.0,1054.9 398.0,1049.2 455.6,1076.9ZM529.8,1072.2 473.3,1047.7 477.6,1044.0 451.1,1040.9 471.5,1058.1 471.2,1052.4 527.8,1076.9ZM601.9,1072.2 543.5,1048.6 547.8,1044.9 521.2,1042.4 542.1,1059.1 541.6,1053.4 599.9,1077.0ZM674.2,1072.3 615.5,1042.7 620.1,1039.3 593.8,1034.6 613.2,1053.0 613.2,1047.3 671.8,1076.9ZM746.7,1072.6 694.2,1031.3 699.4,1028.9 674.5,1019.1 689.9,1040.9 691.0,1035.3 743.5,1076.6ZM818.9,1072.7 768.6,1027.5 773.9,1025.4 749.7,1014.0 763.6,1036.8 765.1,1031.3 815.5,1076.5ZM891.1,1072.8 838.6,1020.0 844.0,1018.2 820.5,1005.5 833.1,1029.0 834.9,1023.6 887.5,1076.4ZM962.2,1072.2 921.5,1059.2 925.5,1055.1 898.8,1054.6 920.8,1069.7 920.0,1064.0 960.6,1077.0ZM1030.9,1074.5 1030.5,1087.9 1025.4,1085.1 1032.2,1111.0 1040.8,1085.7 1035.6,1088.1 1036.1,1074.7ZM1106.6,1073.6 1105.7,1072.6 1108.7,1071.7 1096.1,1064.2 1102.5,1077.4 1103.6,1074.5 1104.6,1075.5ZM1179.5,1072.8 1164.0,1057.3 1169.4,1055.5 1145.9,1042.8 1158.6,1066.3 1160.4,1060.9 1175.9,1076.4ZM1251.7,1072.8 1235.0,1055.1 1240.5,1053.4 1217.4,1040.0 1229.3,1063.9 1231.3,1058.6 1247.9,1076.3ZM1323.7,1072.8 1280.9,1030.2 1286.4,1028.4 1262.8,1015.8 1275.5,1039.3 1277.3,1033.9 1320.1,1076.4ZM1395.7,1072.6 1344.4,1029.3 1349.7,1027.1 1325.2,1016.4 1339.8,1038.8 1341.1,1033.2 1392.3,1076.5ZM1467.0,1072.2 1416.8,1053.1 1421.1,1049.2 1394.4,1047.3 1415.6,1063.6 1415.0,1057.9 1465.2,1077.0ZM1539.3,1072.3 1489.2,1049.1 1493.7,1045.6 1467.2,1041.8 1487.2,1059.5 1487.0,1053.8 1537.1,1076.9ZM1611.1,1072.2 1562.6,1056.2 1566.6,1052.2 1539.9,1051.5 1561.8,1066.8 1561.0,1061.1 1609.5,1077.0ZM1683.7,1072.4 1629.6,1040.9 1634.4,1037.7 1608.4,1031.5 1626.7,1051.0 1627.0,1045.3 1681.1,1076.8ZM1755.4,1072.2 1703.0,1053.3 1707.2,1049.4 1680.5,1047.9 1702.0,1063.8 1701.3,1058.1 1753.6,1077.0ZM1827.4,1072.2 1784.6,1057.1 1788.7,1053.1 1762.0,1051.9 1783.6,1067.6 1782.9,1061.9 1825.8,1077.0ZM313.4,1143.2 262.9,1123.6 267.1,1119.7 240.5,1117.6 261.6,1134.0 261.0,1128.3 311.6,1148.0ZM385.5,1143.2 334.2,1123.3 338.4,1119.5 311.8,1117.4 332.9,1133.8 332.4,1128.1 383.7,1148.0ZM457.9,1143.3 408.0,1116.8 412.7,1113.5 386.5,1108.3 405.5,1127.1 405.6,1121.4 455.5,1147.9ZM529.7,1143.2 476.0,1123.1 480.2,1119.2 453.5,1117.4 474.8,1133.6 474.2,1127.9 527.9,1148.0ZM601.9,1143.2 545.9,1120.9 550.2,1117.1 523.6,1114.7 544.5,1131.3 544.0,1125.6 599.9,1148.0ZM673.9,1143.2 606.3,1118.8 610.5,1114.9 583.8,1113.4 605.3,1129.3 604.6,1123.6 672.1,1148.0ZM746.4,1143.4 684.8,1107.6 689.6,1104.5 663.6,1098.3 681.9,1117.8 682.2,1112.1 743.8,1147.8ZM818.6,1143.4 757.1,1103.7 762.1,1100.8 736.4,1093.4 753.7,1113.7 754.4,1108.0 815.8,1147.7ZM890.7,1143.5 825.6,1099.1 830.6,1096.3 805.1,1088.3 821.9,1109.0 822.7,1103.4 887.9,1147.7ZM962.8,1143.5 895.2,1098.8 900.2,1096.0 874.6,1088.3 891.7,1108.8 892.4,1103.1 960.0,1147.7ZM1034.8,1143.4 972.4,1107.5 977.1,1104.4 951.1,1098.3 969.5,1117.7 969.8,1112.0 1032.2,1147.8ZM1107.0,1143.5 1058.0,1110.4 1063.0,1107.6 1037.5,1099.6 1054.4,1120.3 1055.2,1114.6 1104.2,1147.7ZM1176.7,1143.3 1158.6,1151.2 1158.9,1145.5 1138.6,1162.9 1165.1,1159.6 1160.7,1155.9 1178.7,1147.9ZM1252.0,1144.3 1229.5,1103.9 1235.3,1103.6 1216.1,1085.0 1221.8,1111.1 1225.1,1106.4 1247.6,1146.8ZM1323.9,1144.0 1281.6,1091.5 1287.1,1090.3 1265.1,1075.2 1275.2,1099.9 1277.6,1094.7 1319.9,1147.2ZM1395.6,1143.6 1346.7,1105.5 1351.9,1103.1 1327.0,1093.4 1342.5,1115.2 1343.6,1109.6 1392.4,1147.6ZM1467.6,1143.5 1417.2,1107.0 1422.2,1104.4 1397.0,1095.6 1413.2,1116.8 1414.2,1111.2 1464.6,1147.7ZM1539.6,1143.5 1484.8,1106.1 1489.8,1103.3 1464.3,1095.2 1481.1,1116.0 1481.9,1110.3 1536.8,1147.7ZM1611.6,1143.4 1554.9,1108.6 1559.7,1105.6 1533.9,1098.8 1551.7,1118.7 1552.2,1113.0 1609.0,1147.8ZM1683.7,1143.4 1628.1,1109.8 1633.0,1106.8 1607.1,1100.1 1625.0,1119.9 1625.5,1114.2 1681.1,1147.8ZM1755.7,1143.3 1706.2,1117.2 1710.8,1113.9 1684.6,1108.7 1703.7,1127.4 1703.8,1121.7 1753.3,1147.9ZM1827.6,1143.3 1767.4,1116.7 1771.8,1113.1 1745.3,1109.8 1765.6,1127.1 1765.4,1121.4 1825.6,1147.9ZM313.4,1214.0 263.0,1195.1 267.2,1191.2 240.5,1189.4 261.8,1205.6 261.2,1199.9 311.6,1218.8ZM385.5,1214.0 334.9,1195.4 339.1,1191.5 312.4,1189.8 333.8,1205.9 333.1,1200.2 383.7,1218.8ZM457.8,1214.1 417.9,1195.4 422.3,1191.9 395.9,1188.0 415.8,1205.8 415.7,1200.1 455.6,1218.7ZM531.2,1215.9 530.7,1213.4 536.1,1214.8 523.5,1192.0 521.5,1218.0 525.8,1214.5 526.4,1216.9ZM602.2,1214.2 554.0,1186.7 558.7,1183.5 532.7,1177.5 551.1,1196.9 551.4,1191.2 599.6,1218.6ZM674.0,1214.0 611.6,1188.4 615.9,1184.6 589.3,1182.0 610.1,1198.8 609.6,1193.1 672.0,1218.8ZM746.1,1214.0 682.6,1187.9 686.9,1184.2 660.3,1181.5 681.0,1198.4 680.6,1192.7 744.1,1218.8ZM818.5,1214.2 748.2,1174.8 753.0,1171.6 726.9,1165.8 745.5,1185.0 745.7,1179.3 815.9,1218.6ZM890.4,1214.1 831.9,1185.1 836.4,1181.6 810.1,1177.1 829.6,1195.4 829.6,1189.6 888.2,1218.7ZM962.9,1214.4 904.2,1170.2 909.3,1167.7 884.2,1158.4 900.1,1179.9 901.1,1174.3 959.9,1218.5ZM1034.5,1214.1 978.6,1189.1 983.0,1185.4 956.5,1182.0 976.7,1199.5 976.5,1193.8 1032.5,1218.8ZM1106.9,1214.2 1063.2,1188.0 1068.0,1185.0 1042.1,1178.4 1060.1,1198.1 1060.6,1192.4 1104.3,1218.6ZM1179.2,1214.3 1143.2,1188.0 1148.3,1185.4 1123.1,1176.5 1139.2,1197.8 1140.2,1192.2 1176.2,1218.5ZM1251.5,1214.5 1215.3,1183.5 1220.5,1181.3 1196.1,1170.5 1210.6,1193.0 1211.9,1187.4 1248.1,1218.4ZM1323.7,1214.6 1283.1,1176.0 1288.5,1174.1 1264.6,1162.0 1277.9,1185.2 1279.5,1179.7 1320.1,1218.3ZM1395.7,1214.5 1352.5,1175.1 1357.9,1173.0 1333.8,1161.4 1347.5,1184.4 1349.1,1178.8 1392.3,1218.3ZM1467.9,1214.6 1434.0,1179.3 1439.5,1177.6 1416.2,1164.4 1428.4,1188.2 1430.3,1182.8 1464.3,1218.2ZM1539.5,1214.2 1490.7,1186.6 1495.5,1183.4 1469.4,1177.5 1487.9,1196.8 1488.2,1191.1 1536.9,1218.6ZM1611.5,1214.1 1553.8,1184.7 1558.4,1181.3 1532.1,1176.5 1551.4,1195.0 1551.5,1189.3 1609.1,1218.7ZM1683.3,1214.0 1622.6,1189.9 1626.8,1186.1 1600.2,1183.8 1621.2,1200.4 1620.7,1194.7 1681.5,1218.8ZM1755.4,1214.0 1691.2,1188.5 1695.4,1184.7 1668.8,1182.4 1689.8,1199.0 1689.3,1193.3 1753.6,1218.8ZM1827.5,1214.0 1756.8,1186.6 1761.0,1182.8 1734.4,1180.7 1755.5,1197.1 1755.0,1191.4 1825.7,1218.8ZM313.5,1284.7 274.8,1268.5 279.1,1264.8 252.5,1262.0 273.2,1279.0 272.8,1273.3 311.5,1289.4ZM385.6,1284.7 358.8,1273.5 363.1,1269.8 336.5,1267.0 357.2,1284.0 356.8,1278.3 383.6,1289.4ZM456.8,1284.5 407.0,1282.4 409.8,1277.4 383.9,1284.0 409.2,1292.8 406.8,1287.5 456.6,1289.6ZM531.1,1285.9 529.2,1282.1 534.9,1282.1 516.7,1262.5 521.1,1288.9 524.6,1284.3 526.5,1288.2ZM602.1,1284.8 554.8,1258.7 559.5,1255.5 533.4,1249.8 552.1,1268.9 552.3,1263.2 599.7,1289.3ZM674.0,1284.7 614.3,1258.2 618.7,1254.6 592.2,1251.2 612.5,1268.6 612.2,1262.9 672.0,1289.4ZM746.2,1284.7 683.8,1256.4 688.3,1252.8 661.8,1249.2 681.9,1266.8 681.7,1261.1 744.0,1289.4ZM818.4,1284.8 746.1,1247.8 750.7,1244.4 724.4,1239.6 743.7,1258.1 743.8,1252.4 816.0,1289.3ZM890.8,1284.9 823.4,1238.6 828.4,1235.8 803.0,1227.6 819.7,1248.5 820.5,1242.8 887.8,1289.2ZM963.2,1285.2 910.2,1233.8 915.6,1231.9 891.9,1219.5 904.9,1242.9 906.6,1237.4 959.6,1288.9ZM1035.2,1285.2 989.6,1242.8 995.0,1240.8 971.0,1229.0 984.5,1252.1 986.1,1246.6 1031.8,1288.9ZM1107.1,1285.0 1062.0,1253.0 1067.0,1250.3 1041.7,1241.7 1058.1,1262.8 1059.0,1257.2 1104.1,1289.1ZM1178.9,1284.8 1140.9,1264.9 1145.5,1261.6 1119.3,1256.5 1138.4,1275.2 1138.5,1269.5 1176.5,1289.3ZM1251.0,1284.8 1212.9,1264.1 1217.6,1260.8 1191.4,1255.3 1210.2,1274.3 1210.4,1268.6 1248.6,1289.3ZM1322.9,1284.7 1284.6,1267.7 1289.0,1264.1 1262.5,1260.7 1282.8,1278.1 1282.5,1272.4 1320.9,1289.4ZM1395.0,1284.7 1356.7,1267.7 1361.1,1264.1 1334.6,1260.7 1354.9,1278.1 1354.6,1272.4 1393.0,1289.4ZM1467.2,1284.7 1427.9,1266.6 1432.4,1263.0 1405.9,1259.2 1425.9,1276.9 1425.7,1271.2 1465.0,1289.4ZM1539.4,1284.8 1498.5,1264.1 1503.1,1260.7 1476.8,1255.9 1496.2,1274.4 1496.2,1268.6 1537.0,1289.3ZM1611.3,1284.7 1563.3,1264.0 1567.6,1260.3 1541.1,1257.2 1561.6,1274.4 1561.2,1268.7 1609.3,1289.4ZM1683.3,1284.6 1628.5,1264.5 1632.7,1260.6 1606.0,1258.9 1627.4,1275.0 1626.7,1269.3 1681.5,1289.4ZM1755.6,1284.7 1688.5,1253.8 1693.0,1250.2 1666.5,1246.4 1686.5,1264.1 1686.3,1258.4 1753.4,1289.4ZM1827.6,1284.7 1768.9,1260.4 1773.2,1256.6 1746.6,1253.9 1767.3,1270.8 1766.9,1265.1 1825.6,1289.4Z" fill="#000"/>
<path d="M1608.0,502.0L1618.0,529.0" stroke="#000" stroke-width="5.12"/>
</g>
<rect x="312.5" y="228.6" width="1549.9" height="1058.8" fill="none" stroke="#000" stroke-width="2.78" stroke-linejoin="bevel"/>
<text x="533.5" y="1340.9" font-size="41.67" text-anchor="middle" font-family='"DejaVu Sans Mono", "Liberation Mono", monospace'>142.5°E</text>
<text x="755.4" y="1340.9" font-size="41.67" text-anchor="middle" font-family='"DejaVu Sans Mono", "Liberation Mono", monospace'>145°E</text>
<text x="977.2" y="1340.9" font-size="41.67" text-anchor="middle" font-family='"DejaVu Sans Mono", "Liberation Mono", monospace'>147.5°E</text>
<text x="1199.0" y="1340.9" font-size="41.67" text-anchor="middle" font-family='"DejaVu Sans Mono", "Liberation Mono", monospace'>150°E</text>
<text x="1420.8" y="1340.9" font-size="41.67" text-anchor="middle" font-family='"DejaVu Sans Mono", "Liberation Mono", monospace'>152.5°E</text>
<text x="1642.6" y="1340.9" font-size="41.67" text-anchor="middle" font-family='"DejaVu Sans Mono", "Liberation Mono", monospace'>155°E</text>
<text x="293" y="368.3" font-size="41.67" text-anchor="end" font-family='"DejaVu Sans Mono", "Liberation Mono", monospace'>1.5°S</text>
<text x="293" y="501.4" font-size="41.67" text-anchor="end" font-family='"DejaVu Sans Mono", "Liberation Mono", monospace'>3°S</text>
<text x="293" y="634.5" font-size="41.67" text-anchor="end" font-family='"DejaVu Sans Mono", "Liberation Mono", monospace'>4.5°S</text>
<text x="293" y="767.6" font-size="41.67" text-anchor="end" font-family='"DejaVu Sans Mono", "Liberation Mono", monospace'>6°S</text>
<text x="293" y="900.6" font-size="41.67" text-anchor="end" font-family='"DejaVu Sans Mono", "Liberation Mono", monospace'>7.5°S</text>
<text x="293" y="1033.7" font-size="41.67" text-anchor="end" font-family='"DejaVu Sans Mono", "Liberation Mono", monospace'>9°S</text>
<text x="293" y="1166.8" font-size="41.67" text-anchor="end" font-family='"DejaVu Sans Mono", "Liberation Mono", monospace'>10.5°S</text>
<text x="1087.5" y="145.2" font-size="50" text-anchor="middle" font-family='"DejaVu Sans Mono", "Liberation Mono", monospace'>WS-10m(kmph) @ 20250920_18</text>
<text x="1087.5" y="202.8" font-size="50" text-anchor="middle" font-family='"DejaVu Sans Mono", "Liberation Mono", monospace'>Simulation Time: 20250919_12</text>
<rect x="1959.4" y="1177.69" width="57.6" height="157.41" fill="#fcfed3"/>
<rect x="1959.4" y="1020.57" width="57.6" height="157.41" fill="#f3fabd"/>
<rect x="1959.4" y="863.46" width="57.6" height="157.41" fill="#d1edb3"/>
<rect x="1959.4" y="706.34" width="57.6" height="157.41" fill="#76cabc"/>
<rect x="1959.4" y="549.23" width="57.6" height="157.41" fill="#2ea3c2"/>
<rect x="1959.4" y="392.11" width="57.6" height="157.41" fill="#2262aa"/>
<rect x="1959.4" y="235.00" width="57.6" height="157.41" fill="#1c2d81"/>
<path d="M1959.4,235.3 L1988.2,180.0 L2017.0,235.3Z" fill="#081d58"/>
<path d="M1959.4,1334.8 L1959.4,235.0 L1988.2,180.0 L2017.0,235.0 L2017.0,1334.8Z" fill="none" stroke="#000" stroke-width="2.78" stroke-linejoin="miter"/>
<text x="2044" y="1350.80" font-size="41.67" font-family='"DejaVu Sans Mono", "Liberation Mono", monospace'>5</text>
<text x="2044" y="1193.69" font-size="41.67" font-family='"DejaVu Sans Mono", "Liberation Mono", monospace'>10</text>
<text x="2044" y="1036.57" font-size="41.67" font-family='"DejaVu Sans Mono", "Liberation Mono", monospace'>20</text>
<text x="2044" y="879.46" font-size="41.67" font-family='"DejaVu Sans Mono", "Liberation Mono", monospace'>40</text>
<text x="2044" y="722.34" font-size="41.67" font-family='"DejaVu Sans Mono", "Liberation Mono", monospace'>60</text>
<text x="2044" y="565.23" font-size="41.67" font-family='"DejaVu Sans Mono", "Liberation Mono", monospace'>80</text>
<text x="2044" y="408.11" font-size="41.67" font-family='"DejaVu Sans Mono", "Liberation Mono", monospace'>100</text>
<text x="2044" y="251.00" font-size="41.67" font-family='"DejaVu Sans Mono", "Liberation Mono", monospace'>120</text>
<path d="M2017.0,1334.80h15.6M2017.0,1177.69h15.6M2017.0,1020.57h15.6M2017.0,863.46h15.6M2017.0,706.34h15.6M2017.0,549.23h15.6M2017.0,392.11h15.6M2017.0,235.00h15.6" stroke="#000" stroke-width="2.78"/>
</svg></body></html>
